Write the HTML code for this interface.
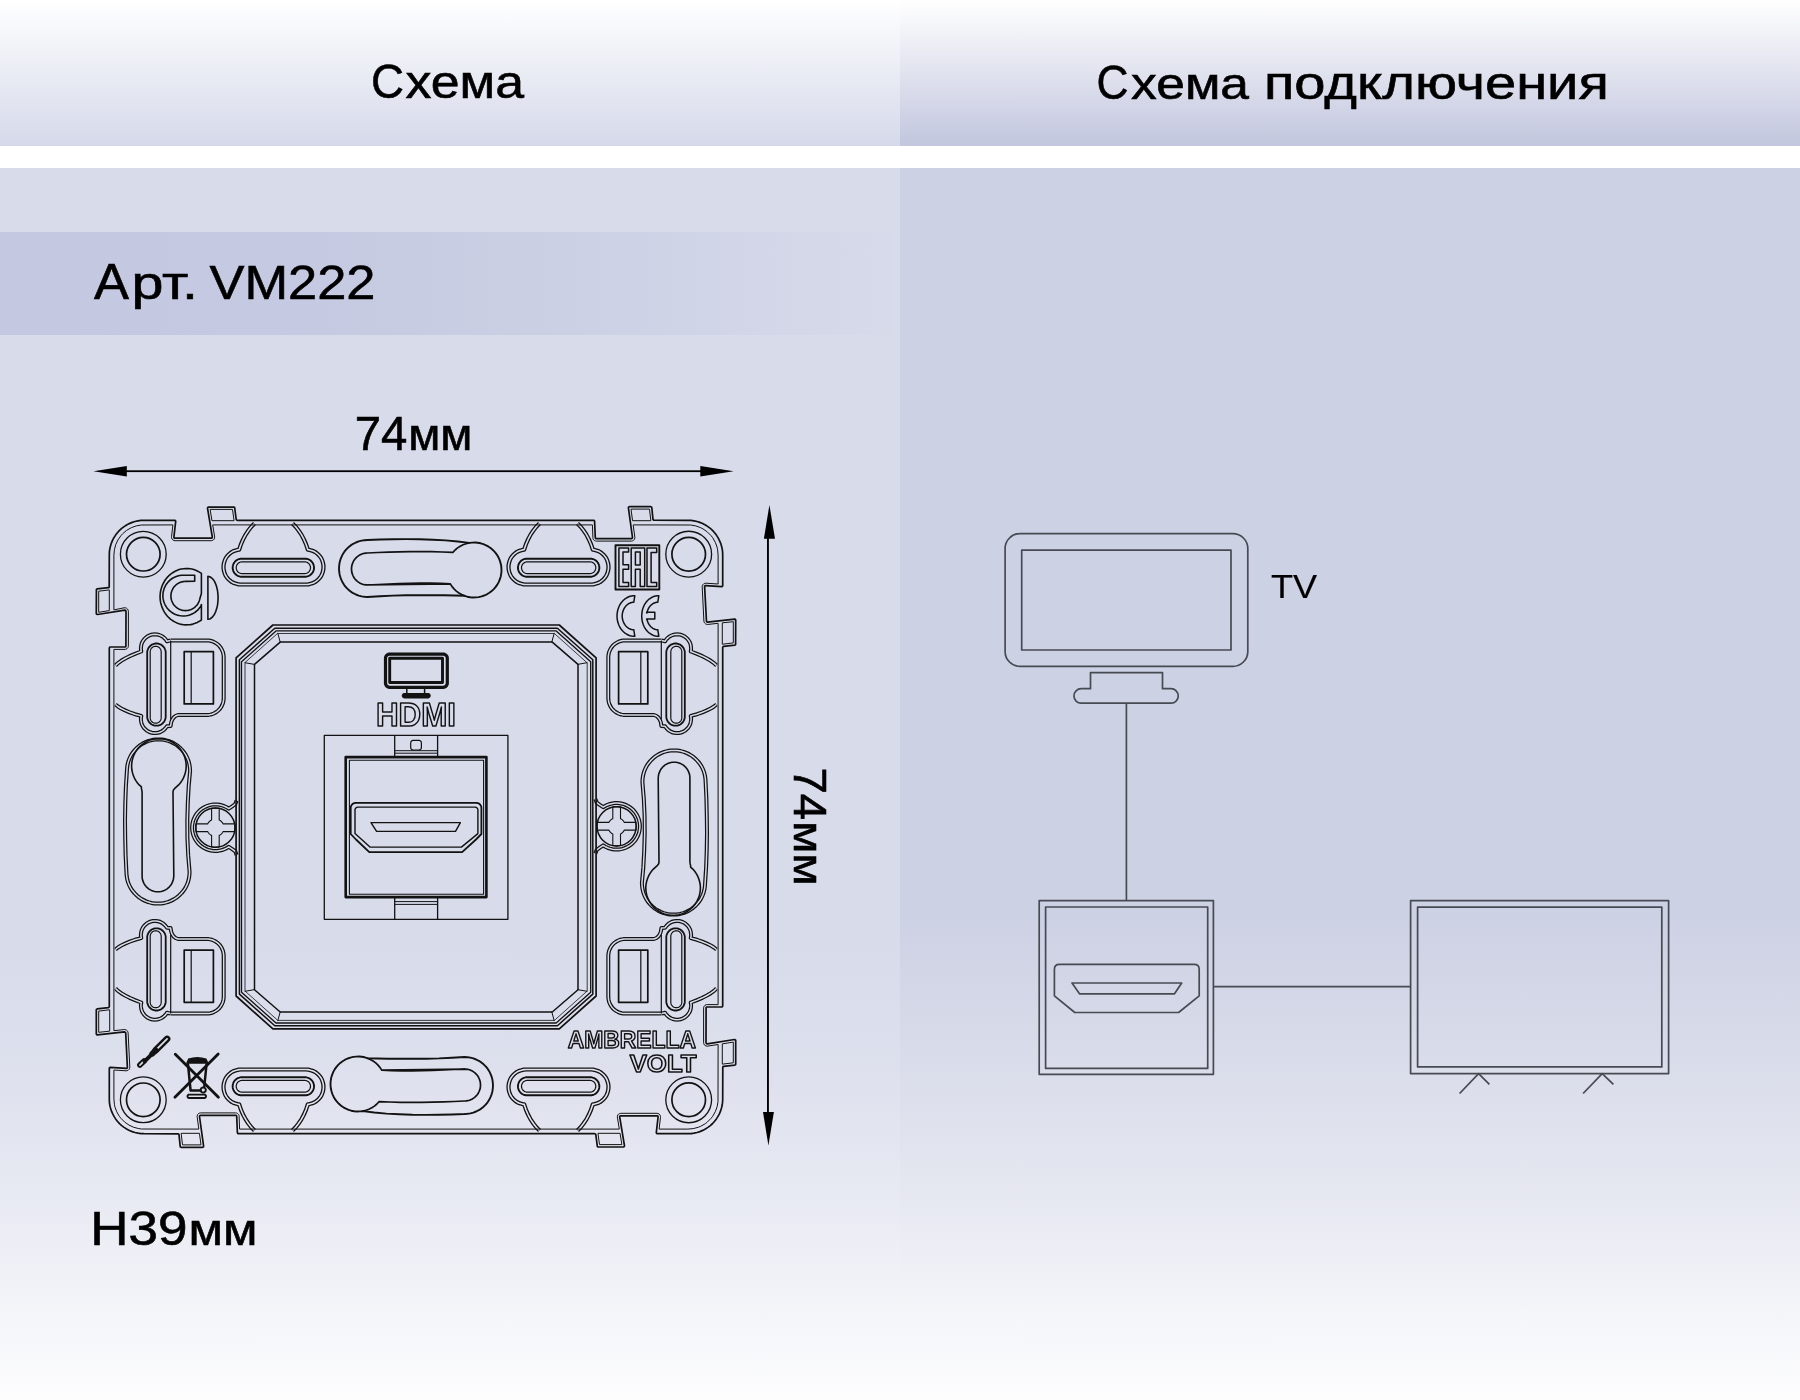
<!DOCTYPE html>
<html><head><meta charset="utf-8">
<style>
html,body{margin:0;padding:0;background:#fff;}
body{width:1800px;height:1400px;position:relative;overflow:hidden;font-family:"Liberation Sans",sans-serif;}
.bg{position:absolute;}
#hl{left:0;top:0;width:900px;height:146px;background:linear-gradient(to bottom,#ffffff 0%,#d5d9ea 100%);}
#hr{left:900px;top:0;width:900px;height:146px;background:linear-gradient(to bottom,#ffffff 0%,#c2c6de 100%);}
#pl{left:0;top:168px;width:900px;height:1232px;background:linear-gradient(to bottom,#d7dbea 0px,#d7dbea 748px,#dcdfec 880px,#e6e8f2 1012px,#f4f5f9 1144px,#fdfdfe 1232px);}
#pr{left:900px;top:168px;width:900px;height:1232px;background:linear-gradient(to bottom,#cdd1e4 0px,#cdd1e4 748px,#d8dbe9 880px,#e4e6f0 1012px,#f4f5f9 1144px,#fdfdfe 1232px);}
#band{left:0;top:232px;width:890px;height:103px;background:linear-gradient(to right,#c4c8e1 0px,#c5c9e1 300px,#cdd1e5 600px,#d6daea 890px);}
svg{position:absolute;left:0;top:0;will-change:transform;}
</style></head>
<body>
<div class="bg" id="hl"></div>
<div class="bg" id="hr"></div>
<div class="bg" id="pl"></div>
<div class="bg" id="pr"></div>
<div class="bg" id="band"></div>
<svg width="1800" height="1400" viewBox="0 0 1800 1400">
<g font-family="Liberation Sans" fill="#000" stroke="#000">
<text x="371.00" y="97.90" font-size="48.83" stroke-width="0.6" textLength="33.00" lengthAdjust="spacingAndGlyphs">С</text>
<text x="405.40" y="97.90" font-size="46.29" stroke-width="0.6" textLength="118.60" lengthAdjust="spacingAndGlyphs">хема</text>
<text x="1096.50" y="98.80" font-size="48.83" stroke-width="0.6" textLength="32.00" lengthAdjust="spacingAndGlyphs">С</text>
<text x="1131.00" y="98.80" font-size="45.16" stroke-width="0.6" textLength="118.00" lengthAdjust="spacingAndGlyphs">хема</text>
<text x="1264.00" y="98.90" font-size="46.29" stroke-width="0.6" textLength="344.80" lengthAdjust="spacingAndGlyphs">подключения</text>
<text x="94.00" y="299.00" font-size="50.78" stroke-width="0.6" textLength="35.00" lengthAdjust="spacingAndGlyphs">А</text>
<text x="131.40" y="299.00" font-size="45.50" stroke-width="0.6" textLength="66.60" lengthAdjust="spacingAndGlyphs">рт.</text>
<text x="209.50" y="299.40" font-size="48.60" stroke-width="0.6" textLength="166.00" lengthAdjust="spacingAndGlyphs">VM222</text>
<text x="354.80" y="449.50" font-size="48.79" stroke-width="0.6" textLength="52.60" lengthAdjust="spacingAndGlyphs">74</text>
<text x="408.20" y="449.50" font-size="43.51" stroke-width="0.6" textLength="64.20" lengthAdjust="spacingAndGlyphs">мм</text>
<text transform="translate(793.50,767.50) rotate(90)" font-size="46.40" stroke-width="0.6" textLength="52.60" lengthAdjust="spacingAndGlyphs">74</text>
<text transform="translate(793.50,821.00) rotate(90)" font-size="40.21" stroke-width="0.6" textLength="64.60" lengthAdjust="spacingAndGlyphs">мм</text>
<text x="90.30" y="1245.20" font-size="47.69" stroke-width="0.6" textLength="97.20" lengthAdjust="spacingAndGlyphs">H39</text>
<text x="188.60" y="1245.20" font-size="45.27" stroke-width="0.6" textLength="69.00" lengthAdjust="spacingAndGlyphs">мм</text>
<text x="1271.00" y="598.40" font-size="33.93" stroke-width="0.2" textLength="46.10" lengthAdjust="spacingAndGlyphs">TV</text>
</g>
<!-- dimension arrows -->
<g fill="#000" stroke="none">
<rect x="110" y="470.3" width="608" height="1.8"/>
<path d="M93.5,471.2 L126.8,465.9 L126.8,476.5 Z"/>
<path d="M733.6,471.2 L700.3,465.9 L700.3,476.5 Z"/>
<rect x="767" y="520" width="1.9" height="610"/>
<path d="M769.4,505 L763.9,538.8 L775,538.8 Z"/>
<path d="M768.4,1145.4 L763,1112.1 L773.9,1112.1 Z"/>
</g>
<mask id="dbl" maskUnits="userSpaceOnUse" x="0" y="0" width="1800" height="1400"><g fill="none" stroke-linejoin="round" stroke-linecap="butt">
<path d="M254.5,523.5 251.3,526.7 248.4,530.5 245.7,534.6 243.2,539.2 241,544.2 239.2,549.6 237.4,549.9 235.6,550.4 233.9,551 232.2,551.8 230.7,552.8 229.3,554 228,555.3 226.8,556.7 225.8,558.2 225,559.9 224.4,561.6 223.9,563.4 223.6,565.2 223.5,567 223.6,568.8 223.9,570.6 224.4,572.4 225,574.1 225.8,575.8 226.8,577.3 228,578.7 229.3,580 230.7,581.2 232.2,582.2 233.9,583 235.6,583.6 237.4,584.1 239.2,584.4 241,584.5 306,584.5 307.8,584.4 309.6,584.1 311.4,583.6 313.1,583 314.8,582.2 316.3,581.2 317.7,580 319,578.7 320.2,577.3 321.2,575.8 322,574.1 322.6,572.4 323.1,570.6 323.4,568.8 323.5,567 323.4,565.2 323.1,563.4 322.6,561.6 322,559.9 321.2,558.2 320.2,556.7 319,555.3 317.7,554 316.3,552.8 314.8,551.8 313.1,551 311.4,550.4 309.6,549.9 307.8,549.6 306,544.2 303.8,539.2 301.4,534.6 298.6,530.5 295.7,526.7 292.5,523.5" stroke="#fff" stroke-width="4.2"/>
<path d="M577.5,523.5 580.7,526.7 583.6,530.5 586.4,534.6 588.8,539.2 591,544.2 592.8,549.6 594.6,549.9 596.4,550.4 598.1,551 599.8,551.8 601.3,552.8 602.7,554 604,555.3 605.2,556.7 606.2,558.2 607,559.9 607.6,561.6 608.1,563.4 608.4,565.2 608.5,567 608.4,568.8 608.1,570.6 607.6,572.4 607,574.1 606.2,575.8 605.2,577.3 604,578.7 602.7,580 601.3,581.2 599.8,582.2 598.1,583 596.4,583.6 594.6,584.1 592.8,584.4 591,584.5 526,584.5 524.2,584.4 522.4,584.1 520.6,583.6 518.9,583 517.2,582.2 515.7,581.2 514.3,580 513,578.7 511.8,577.3 510.8,575.8 510,574.1 509.4,572.4 508.9,570.6 508.6,568.8 508.5,567 508.6,565.2 508.9,563.4 509.4,561.6 510,559.9 510.8,558.2 511.8,556.7 513,555.3 514.3,554 515.7,552.8 517.2,551.8 518.9,551 520.6,550.4 522.4,549.9 524.2,549.6 526,544.2 528.2,539.2 530.6,534.6 533.4,530.5 536.3,526.7 539.5,523.5" stroke="#fff" stroke-width="4.2"/>
<path d="M254.5,1130.5 251.3,1127.3 248.4,1123.5 245.7,1119.4 243.2,1114.8 241,1109.8 239.2,1104.4 237.4,1104.1 235.6,1103.6 233.9,1103 232.2,1102.2 230.7,1101.2 229.3,1100 228,1098.7 226.8,1097.3 225.8,1095.8 225,1094.1 224.4,1092.4 223.9,1090.6 223.6,1088.8 223.5,1087 223.6,1085.2 223.9,1083.4 224.4,1081.6 225,1079.9 225.8,1078.2 226.8,1076.7 228,1075.3 229.3,1074 230.7,1072.8 232.2,1071.8 233.9,1071 235.6,1070.4 237.4,1069.9 239.2,1069.6 241,1069.5 306,1069.5 307.8,1069.6 309.6,1069.9 311.4,1070.4 313.1,1071 314.8,1071.8 316.3,1072.8 317.7,1074 319,1075.3 320.2,1076.7 321.2,1078.2 322,1079.9 322.6,1081.6 323.1,1083.4 323.4,1085.2 323.5,1087 323.4,1088.8 323.1,1090.6 322.6,1092.4 322,1094.1 321.2,1095.8 320.2,1097.3 319,1098.7 317.7,1100 316.3,1101.2 314.8,1102.2 313.1,1103 311.4,1103.6 309.6,1104.1 307.8,1104.4 306,1109.8 303.8,1114.8 301.4,1119.4 298.6,1123.5 295.7,1127.3 292.5,1130.5" stroke="#fff" stroke-width="4.2"/>
<path d="M577.5,1130.5 580.7,1127.3 583.6,1123.5 586.4,1119.4 588.8,1114.8 591,1109.8 592.8,1104.4 594.6,1104.1 596.4,1103.6 598.1,1103 599.8,1102.2 601.3,1101.2 602.7,1100 604,1098.7 605.2,1097.3 606.2,1095.8 607,1094.1 607.6,1092.4 608.1,1090.6 608.4,1088.8 608.5,1087 608.4,1085.2 608.1,1083.4 607.6,1081.6 607,1079.9 606.2,1078.2 605.2,1076.7 604,1075.3 602.7,1074 601.3,1072.8 599.8,1071.8 598.1,1071 596.4,1070.4 594.6,1069.9 592.8,1069.6 591,1069.5 526,1069.5 524.2,1069.6 522.4,1069.9 520.6,1070.4 518.9,1071 517.2,1071.8 515.7,1072.8 514.3,1074 513,1075.3 511.8,1076.7 510.8,1078.2 510,1079.9 509.4,1081.6 508.9,1083.4 508.6,1085.2 508.5,1087 508.6,1088.8 508.9,1090.6 509.4,1092.4 510,1094.1 510.8,1095.8 511.8,1097.3 513,1098.7 514.3,1100 515.7,1101.2 517.2,1102.2 518.9,1103 520.6,1103.6 522.4,1104.1 524.2,1104.4 526,1109.8 528.2,1114.8 530.6,1119.4 533.4,1123.5 536.3,1127.3 539.5,1130.5" stroke="#fff" stroke-width="4.2"/>
<path d="M115.5,665.5 118,663.1 121.2,660.8 125.1,658.5 129.6,656.2 135,653.9 141.1,651.5 141.3,651.4 141,650 140.9,648.5 141,647.1 141.2,645.6 141.5,644.2 142,642.8 142.7,641.5 143.5,640.2 144.4,639.1 145.4,638 146.6,637.1 147.8,636.2 149.1,635.6 150.5,635 151.9,634.6 153.3,634.4 154.8,634.3 156.3,634.4 157.7,634.6 159.2,635 160.5,635.5 161.9,636.2 163.1,637 164.2,637.9 165.3,638.9 166.2,640.1 167,641.3 170.7,640.4" stroke="#fff" stroke-width="4.0"/>
<path d="M170.7,640.4 206.8,640.4 208.6,640.5 210.3,640.8 212,641.2 213.7,641.9 215.2,642.7 216.7,643.6 218.1,644.7 219.4,646 220.5,647.4 221.4,648.8 222.2,650.4 222.9,652.1 223.3,653.8 223.6,655.5 223.7,657.3 223.7,698.1 223.6,699.9 223.3,701.6 222.9,703.3 222.2,705 221.4,706.6 220.5,708 219.4,709.4 218.1,710.7 216.7,711.8 215.2,712.7 213.7,713.5 212,714.2 210.3,714.6 208.6,714.9 206.8,715 178,715 175.5,716 173.6,717.6 172.1,719.8 171.1,722.6 170.6,726 166.9,726.3 166.1,727.5 165.1,728.6 164.1,729.7 162.9,730.6 161.7,731.3 160.4,732 159,732.5 157.6,732.8 156.1,733 154.7,733.1 153.2,733 151.8,732.7 150.3,732.3 149,731.8 147.7,731.1 146.5,730.3 145.4,729.3 144.3,728.3 143.4,727.1 142.7,725.9 142,724.6 141.5,723.2 141.2,721.8 141,720.3 140.9,718.9 141,717.4 141.3,716 141.1,715.9 135,714.2 129.6,712.3 125.1,710.4 121.2,708.5 118,706.5 115.5,704.5" stroke="#fff" stroke-width="4.0"/>
<path d="M115.5,988.5 118,990.9 121.2,993.2 125.1,995.5 129.6,997.8 135,1000.1 141.1,1002.5 141.3,1002.6 141,1004 140.9,1005.5 141,1006.9 141.2,1008.4 141.5,1009.8 142,1011.2 142.7,1012.5 143.5,1013.8 144.4,1014.9 145.4,1016 146.6,1016.9 147.8,1017.8 149.1,1018.4 150.5,1019 151.9,1019.4 153.3,1019.6 154.8,1019.7 156.3,1019.6 157.7,1019.4 159.2,1019 160.5,1018.5 161.9,1017.8 163.1,1017 164.2,1016.1 165.3,1015.1 166.2,1013.9 167,1012.7 170.7,1013.6" stroke="#fff" stroke-width="4.0"/>
<path d="M170.7,1013.6 206.8,1013.6 208.6,1013.5 210.3,1013.2 212,1012.8 213.7,1012.1 215.2,1011.3 216.7,1010.4 218.1,1009.3 219.4,1008 220.5,1006.6 221.4,1005.2 222.2,1003.6 222.9,1001.9 223.3,1000.2 223.6,998.5 223.7,996.7 223.7,955.9 223.6,954.1 223.3,952.4 222.9,950.7 222.2,949 221.4,947.4 220.5,946 219.4,944.6 218.1,943.3 216.7,942.2 215.2,941.3 213.7,940.5 212,939.8 210.3,939.4 208.6,939.1 206.8,939 178,939 175.5,938 173.6,936.4 172.1,934.2 171.1,931.4 170.6,928 166.9,927.7 166.1,926.5 165.1,925.4 164.1,924.3 162.9,923.4 161.7,922.7 160.4,922 159,921.5 157.6,921.2 156.1,921 154.7,920.9 153.2,921 151.8,921.3 150.3,921.7 149,922.2 147.7,922.9 146.5,923.7 145.4,924.7 144.3,925.7 143.4,926.9 142.7,928.1 142,929.4 141.5,930.8 141.2,932.2 141,933.7 140.9,935.1 141,936.6 141.3,938 141.1,938.1 135,939.8 129.6,941.7 125.1,943.6 121.2,945.5 118,947.5 115.5,949.5" stroke="#fff" stroke-width="4.0"/>
<path d="M716.5,988.5 714,990.9 710.8,993.2 706.9,995.5 702.4,997.8 697,1000.1 690.9,1002.5 690.7,1002.6 691,1004 691.1,1005.5 691,1006.9 690.8,1008.4 690.5,1009.8 690,1011.2 689.3,1012.5 688.5,1013.8 687.6,1014.9 686.6,1016 685.4,1016.9 684.2,1017.8 682.9,1018.4 681.5,1019 680.1,1019.4 678.7,1019.6 677.2,1019.7 675.7,1019.6 674.3,1019.4 672.8,1019 671.5,1018.5 670.1,1017.8 668.9,1017 667.8,1016.1 666.7,1015.1 665.8,1013.9 665,1012.7 661.3,1013.6" stroke="#fff" stroke-width="4.0"/>
<path d="M661.3,1013.6 625.2,1013.6 623.4,1013.5 621.7,1013.2 620,1012.8 618.3,1012.1 616.8,1011.3 615.3,1010.4 613.9,1009.3 612.6,1008 611.5,1006.6 610.6,1005.2 609.8,1003.6 609.1,1001.9 608.7,1000.2 608.4,998.5 608.3,996.7 608.3,955.9 608.4,954.1 608.7,952.4 609.1,950.7 609.8,949 610.6,947.4 611.5,946 612.6,944.6 613.9,943.3 615.3,942.2 616.8,941.3 618.3,940.5 620,939.8 621.7,939.4 623.4,939.1 625.2,939 654,939 656.5,938 658.4,936.4 659.9,934.2 660.9,931.4 661.4,928 665.1,927.7 665.9,926.5 666.9,925.4 667.9,924.3 669.1,923.4 670.3,922.7 671.6,922 673,921.5 674.4,921.2 675.9,921 677.3,920.9 678.8,921 680.2,921.3 681.7,921.7 683,922.2 684.3,922.9 685.5,923.7 686.6,924.7 687.7,925.7 688.6,926.9 689.3,928.1 690,929.4 690.5,930.8 690.8,932.2 691,933.7 691.1,935.1 691,936.6 690.7,938 690.9,938.1 697,939.8 702.4,941.7 706.9,943.6 710.8,945.5 714,947.5 716.5,949.5" stroke="#fff" stroke-width="4.0"/>
<path d="M716.5,665.5 714,663.1 710.8,660.8 706.9,658.5 702.4,656.2 697,653.9 690.9,651.5 690.7,651.4 691,650 691.1,648.5 691,647.1 690.8,645.6 690.5,644.2 690,642.8 689.3,641.5 688.5,640.2 687.6,639.1 686.6,638 685.4,637.1 684.2,636.2 682.9,635.6 681.5,635 680.1,634.6 678.7,634.4 677.2,634.3 675.7,634.4 674.3,634.6 672.8,635 671.5,635.5 670.1,636.2 668.9,637 667.8,637.9 666.7,638.9 665.8,640.1 665,641.3 661.3,640.4" stroke="#fff" stroke-width="4.0"/>
<path d="M661.3,640.4 625.2,640.4 623.4,640.5 621.7,640.8 620,641.2 618.3,641.9 616.8,642.7 615.3,643.6 613.9,644.7 612.6,646 611.5,647.4 610.6,648.8 609.8,650.4 609.1,652.1 608.7,653.8 608.4,655.5 608.3,657.3 608.3,698.1 608.4,699.9 608.7,701.6 609.1,703.3 609.8,705 610.6,706.6 611.5,708 612.6,709.4 613.9,710.7 615.3,711.8 616.8,712.7 618.3,713.5 620,714.2 621.7,714.6 623.4,714.9 625.2,715 654,715 656.5,716 658.4,717.6 659.9,719.8 660.9,722.6 661.4,726 665.1,726.3 665.9,727.5 666.9,728.6 667.9,729.7 669.1,730.6 670.3,731.3 671.6,732 673,732.5 674.4,732.8 675.9,733 677.3,733.1 678.8,733 680.2,732.7 681.7,732.3 683,731.8 684.3,731.1 685.5,730.3 686.6,729.3 687.7,728.3 688.6,727.1 689.3,725.9 690,724.6 690.5,723.2 690.8,721.8 691,720.3 691.1,718.9 691,717.4 690.7,716 690.9,715.9 697,714.2 702.4,712.3 706.9,710.4 710.8,708.5 714,706.5 716.5,704.5" stroke="#fff" stroke-width="4.0"/>
<path d="M126.9,771 127.1,767.7 127.6,764.4 128.4,761.2 129.6,758.1 131.1,755.2 132.9,752.4 135,749.9 137.4,747.5 139.9,745.4 142.7,743.6 145.6,742.1 148.7,740.9 151.9,740.1 155.2,739.6 158.5,739.4 161.8,739.6 165.1,740.1 168.3,740.9 171.4,742.1 174.3,743.6 177.1,745.4 179.6,747.5 182,749.9 184.1,752.4 185.9,755.2 187.4,758.1 188.6,761.2 189.4,764.4 189.9,767.7 190.1,771 188.7,786.3 187.8,803 187.3,820.4 187.4,838 188.2,855.4 189.6,872 189.4,875.3 188.9,878.6 188.1,881.8 186.9,884.9 185.4,887.8 183.6,890.6 181.5,893.1 179.1,895.5 176.6,897.6 173.8,899.4 170.9,900.9 167.8,902.1 164.6,902.9 161.3,903.4 158,903.6 154.7,903.4 151.4,902.9 148.2,902.1 145.1,900.9 142.2,899.4 139.4,897.6 136.9,895.5 134.5,893.1 132.4,890.6 130.6,887.8 129.1,884.9 127.9,881.8 127.1,878.6 126.6,875.3 126.4,872 125.6,855.4 125.2,838 125,820.4 125.3,803 125.9,786.3Z" stroke="#fff" stroke-width="4.0"/>
<path d="M705.1,883 704.9,886.3 704.4,889.6 703.6,892.8 702.4,895.9 700.9,898.8 699.1,901.6 697,904.1 694.6,906.5 692.1,908.6 689.3,910.4 686.4,911.9 683.3,913.1 680.1,913.9 676.8,914.4 673.5,914.6 670.2,914.4 666.9,913.9 663.7,913.1 660.6,911.9 657.7,910.4 654.9,908.6 652.4,906.5 650,904.1 647.9,901.6 646.1,898.8 644.6,895.9 643.4,892.8 642.6,889.6 642.1,886.3 641.9,883 643.3,867.7 644.2,851 644.7,833.6 644.6,816 643.8,798.6 642.4,782 642.6,778.7 643.1,775.4 643.9,772.2 645.1,769.1 646.6,766.2 648.4,763.4 650.5,760.9 652.9,758.5 655.4,756.4 658.2,754.6 661.1,753.1 664.2,751.9 667.4,751.1 670.7,750.6 674,750.4 677.3,750.6 680.6,751.1 683.8,751.9 686.9,753.1 689.8,754.6 692.6,756.4 695.1,758.5 697.5,760.9 699.6,763.4 701.4,766.2 702.9,769.1 704.1,772.2 704.9,775.4 705.4,778.7 705.6,782 706.4,798.6 706.8,816 707,833.6 706.7,851 706.1,867.7Z" stroke="#fff" stroke-width="4.0"/>
<path d="M236.6,800.5 235.3,804 232.2,806.3 228.8,808.6 226.7,807.3 224.4,806.2 222.1,805.4 219.7,804.8 217.2,804.5 214.8,804.4 212.3,804.6 209.8,805.1 207.5,805.8 205.2,806.8 203,808 201,809.4 199.1,811 197.5,812.8 196,814.8 194.7,817 193.7,819.2 192.9,821.6 192.4,824 192.1,826.5 192.1,828.9 192.4,831.4 192.9,833.8 193.7,836.2 194.7,838.4 196,840.6 197.5,842.6 199.1,844.4 201,846 203,847.4 205.2,848.6 207.5,849.6 209.8,850.3 212.3,850.8 214.8,851 217.2,850.9 219.7,850.6 222.1,850 224.4,849.2 226.7,848.1 228.8,846.8 232.2,849.1 235.3,851.4 236.6,855" stroke="#fff" stroke-width="4.0"/>
<path d="M595.4,853.5 596.7,850 599.8,847.7 603.2,845.4 605.3,846.7 607.6,847.8 609.9,848.6 612.3,849.2 614.8,849.5 617.2,849.6 619.7,849.4 622.2,848.9 624.5,848.2 626.8,847.2 629,846 631,844.6 632.9,843 634.5,841.2 636,839.2 637.3,837 638.3,834.8 639.1,832.4 639.6,830 639.9,827.5 639.9,825.1 639.6,822.6 639.1,820.2 638.3,817.8 637.3,815.6 636,813.4 634.5,811.4 632.9,809.6 631,808 629,806.6 626.8,805.4 624.5,804.4 622.2,803.7 619.7,803.2 617.2,803 614.8,803.1 612.3,803.4 609.9,804 607.6,804.8 605.3,805.9 603.2,807.2 599.8,804.9 596.7,802.6 595.4,799" stroke="#fff" stroke-width="4.0"/>
<path d="M254.5,523.5 251.3,526.7 248.4,530.5 245.7,534.6 243.2,539.2 241,544.2 239.2,549.6 237.4,549.9 235.6,550.4 233.9,551 232.2,551.8 230.7,552.8 229.3,554 228,555.3 226.8,556.7 225.8,558.2 225,559.9 224.4,561.6 223.9,563.4 223.6,565.2 223.5,567 223.6,568.8 223.9,570.6 224.4,572.4 225,574.1 225.8,575.8 226.8,577.3 228,578.7 229.3,580 230.7,581.2 232.2,582.2 233.9,583 235.6,583.6 237.4,584.1 239.2,584.4 241,584.5 306,584.5 307.8,584.4 309.6,584.1 311.4,583.6 313.1,583 314.8,582.2 316.3,581.2 317.7,580 319,578.7 320.2,577.3 321.2,575.8 322,574.1 322.6,572.4 323.1,570.6 323.4,568.8 323.5,567 323.4,565.2 323.1,563.4 322.6,561.6 322,559.9 321.2,558.2 320.2,556.7 319,555.3 317.7,554 316.3,552.8 314.8,551.8 313.1,551 311.4,550.4 309.6,549.9 307.8,549.6 306,544.2 303.8,539.2 301.4,534.6 298.6,530.5 295.7,526.7 292.5,523.5" stroke="#000" stroke-width="1.6"/>
<path d="M577.5,523.5 580.7,526.7 583.6,530.5 586.4,534.6 588.8,539.2 591,544.2 592.8,549.6 594.6,549.9 596.4,550.4 598.1,551 599.8,551.8 601.3,552.8 602.7,554 604,555.3 605.2,556.7 606.2,558.2 607,559.9 607.6,561.6 608.1,563.4 608.4,565.2 608.5,567 608.4,568.8 608.1,570.6 607.6,572.4 607,574.1 606.2,575.8 605.2,577.3 604,578.7 602.7,580 601.3,581.2 599.8,582.2 598.1,583 596.4,583.6 594.6,584.1 592.8,584.4 591,584.5 526,584.5 524.2,584.4 522.4,584.1 520.6,583.6 518.9,583 517.2,582.2 515.7,581.2 514.3,580 513,578.7 511.8,577.3 510.8,575.8 510,574.1 509.4,572.4 508.9,570.6 508.6,568.8 508.5,567 508.6,565.2 508.9,563.4 509.4,561.6 510,559.9 510.8,558.2 511.8,556.7 513,555.3 514.3,554 515.7,552.8 517.2,551.8 518.9,551 520.6,550.4 522.4,549.9 524.2,549.6 526,544.2 528.2,539.2 530.6,534.6 533.4,530.5 536.3,526.7 539.5,523.5" stroke="#000" stroke-width="1.6"/>
<path d="M254.5,1130.5 251.3,1127.3 248.4,1123.5 245.7,1119.4 243.2,1114.8 241,1109.8 239.2,1104.4 237.4,1104.1 235.6,1103.6 233.9,1103 232.2,1102.2 230.7,1101.2 229.3,1100 228,1098.7 226.8,1097.3 225.8,1095.8 225,1094.1 224.4,1092.4 223.9,1090.6 223.6,1088.8 223.5,1087 223.6,1085.2 223.9,1083.4 224.4,1081.6 225,1079.9 225.8,1078.2 226.8,1076.7 228,1075.3 229.3,1074 230.7,1072.8 232.2,1071.8 233.9,1071 235.6,1070.4 237.4,1069.9 239.2,1069.6 241,1069.5 306,1069.5 307.8,1069.6 309.6,1069.9 311.4,1070.4 313.1,1071 314.8,1071.8 316.3,1072.8 317.7,1074 319,1075.3 320.2,1076.7 321.2,1078.2 322,1079.9 322.6,1081.6 323.1,1083.4 323.4,1085.2 323.5,1087 323.4,1088.8 323.1,1090.6 322.6,1092.4 322,1094.1 321.2,1095.8 320.2,1097.3 319,1098.7 317.7,1100 316.3,1101.2 314.8,1102.2 313.1,1103 311.4,1103.6 309.6,1104.1 307.8,1104.4 306,1109.8 303.8,1114.8 301.4,1119.4 298.6,1123.5 295.7,1127.3 292.5,1130.5" stroke="#000" stroke-width="1.6"/>
<path d="M577.5,1130.5 580.7,1127.3 583.6,1123.5 586.4,1119.4 588.8,1114.8 591,1109.8 592.8,1104.4 594.6,1104.1 596.4,1103.6 598.1,1103 599.8,1102.2 601.3,1101.2 602.7,1100 604,1098.7 605.2,1097.3 606.2,1095.8 607,1094.1 607.6,1092.4 608.1,1090.6 608.4,1088.8 608.5,1087 608.4,1085.2 608.1,1083.4 607.6,1081.6 607,1079.9 606.2,1078.2 605.2,1076.7 604,1075.3 602.7,1074 601.3,1072.8 599.8,1071.8 598.1,1071 596.4,1070.4 594.6,1069.9 592.8,1069.6 591,1069.5 526,1069.5 524.2,1069.6 522.4,1069.9 520.6,1070.4 518.9,1071 517.2,1071.8 515.7,1072.8 514.3,1074 513,1075.3 511.8,1076.7 510.8,1078.2 510,1079.9 509.4,1081.6 508.9,1083.4 508.6,1085.2 508.5,1087 508.6,1088.8 508.9,1090.6 509.4,1092.4 510,1094.1 510.8,1095.8 511.8,1097.3 513,1098.7 514.3,1100 515.7,1101.2 517.2,1102.2 518.9,1103 520.6,1103.6 522.4,1104.1 524.2,1104.4 526,1109.8 528.2,1114.8 530.6,1119.4 533.4,1123.5 536.3,1127.3 539.5,1130.5" stroke="#000" stroke-width="1.6"/>
<path d="M115.5,665.5 118,663.1 121.2,660.8 125.1,658.5 129.6,656.2 135,653.9 141.1,651.5 141.3,651.4 141,650 140.9,648.5 141,647.1 141.2,645.6 141.5,644.2 142,642.8 142.7,641.5 143.5,640.2 144.4,639.1 145.4,638 146.6,637.1 147.8,636.2 149.1,635.6 150.5,635 151.9,634.6 153.3,634.4 154.8,634.3 156.3,634.4 157.7,634.6 159.2,635 160.5,635.5 161.9,636.2 163.1,637 164.2,637.9 165.3,638.9 166.2,640.1 167,641.3 170.7,640.4" stroke="#000" stroke-width="1.5"/>
<path d="M170.7,640.4 206.8,640.4 208.6,640.5 210.3,640.8 212,641.2 213.7,641.9 215.2,642.7 216.7,643.6 218.1,644.7 219.4,646 220.5,647.4 221.4,648.8 222.2,650.4 222.9,652.1 223.3,653.8 223.6,655.5 223.7,657.3 223.7,698.1 223.6,699.9 223.3,701.6 222.9,703.3 222.2,705 221.4,706.6 220.5,708 219.4,709.4 218.1,710.7 216.7,711.8 215.2,712.7 213.7,713.5 212,714.2 210.3,714.6 208.6,714.9 206.8,715 178,715 175.5,716 173.6,717.6 172.1,719.8 171.1,722.6 170.6,726 166.9,726.3 166.1,727.5 165.1,728.6 164.1,729.7 162.9,730.6 161.7,731.3 160.4,732 159,732.5 157.6,732.8 156.1,733 154.7,733.1 153.2,733 151.8,732.7 150.3,732.3 149,731.8 147.7,731.1 146.5,730.3 145.4,729.3 144.3,728.3 143.4,727.1 142.7,725.9 142,724.6 141.5,723.2 141.2,721.8 141,720.3 140.9,718.9 141,717.4 141.3,716 141.1,715.9 135,714.2 129.6,712.3 125.1,710.4 121.2,708.5 118,706.5 115.5,704.5" stroke="#000" stroke-width="1.5"/>
<path d="M115.5,988.5 118,990.9 121.2,993.2 125.1,995.5 129.6,997.8 135,1000.1 141.1,1002.5 141.3,1002.6 141,1004 140.9,1005.5 141,1006.9 141.2,1008.4 141.5,1009.8 142,1011.2 142.7,1012.5 143.5,1013.8 144.4,1014.9 145.4,1016 146.6,1016.9 147.8,1017.8 149.1,1018.4 150.5,1019 151.9,1019.4 153.3,1019.6 154.8,1019.7 156.3,1019.6 157.7,1019.4 159.2,1019 160.5,1018.5 161.9,1017.8 163.1,1017 164.2,1016.1 165.3,1015.1 166.2,1013.9 167,1012.7 170.7,1013.6" stroke="#000" stroke-width="1.5"/>
<path d="M170.7,1013.6 206.8,1013.6 208.6,1013.5 210.3,1013.2 212,1012.8 213.7,1012.1 215.2,1011.3 216.7,1010.4 218.1,1009.3 219.4,1008 220.5,1006.6 221.4,1005.2 222.2,1003.6 222.9,1001.9 223.3,1000.2 223.6,998.5 223.7,996.7 223.7,955.9 223.6,954.1 223.3,952.4 222.9,950.7 222.2,949 221.4,947.4 220.5,946 219.4,944.6 218.1,943.3 216.7,942.2 215.2,941.3 213.7,940.5 212,939.8 210.3,939.4 208.6,939.1 206.8,939 178,939 175.5,938 173.6,936.4 172.1,934.2 171.1,931.4 170.6,928 166.9,927.7 166.1,926.5 165.1,925.4 164.1,924.3 162.9,923.4 161.7,922.7 160.4,922 159,921.5 157.6,921.2 156.1,921 154.7,920.9 153.2,921 151.8,921.3 150.3,921.7 149,922.2 147.7,922.9 146.5,923.7 145.4,924.7 144.3,925.7 143.4,926.9 142.7,928.1 142,929.4 141.5,930.8 141.2,932.2 141,933.7 140.9,935.1 141,936.6 141.3,938 141.1,938.1 135,939.8 129.6,941.7 125.1,943.6 121.2,945.5 118,947.5 115.5,949.5" stroke="#000" stroke-width="1.5"/>
<path d="M716.5,988.5 714,990.9 710.8,993.2 706.9,995.5 702.4,997.8 697,1000.1 690.9,1002.5 690.7,1002.6 691,1004 691.1,1005.5 691,1006.9 690.8,1008.4 690.5,1009.8 690,1011.2 689.3,1012.5 688.5,1013.8 687.6,1014.9 686.6,1016 685.4,1016.9 684.2,1017.8 682.9,1018.4 681.5,1019 680.1,1019.4 678.7,1019.6 677.2,1019.7 675.7,1019.6 674.3,1019.4 672.8,1019 671.5,1018.5 670.1,1017.8 668.9,1017 667.8,1016.1 666.7,1015.1 665.8,1013.9 665,1012.7 661.3,1013.6" stroke="#000" stroke-width="1.5"/>
<path d="M661.3,1013.6 625.2,1013.6 623.4,1013.5 621.7,1013.2 620,1012.8 618.3,1012.1 616.8,1011.3 615.3,1010.4 613.9,1009.3 612.6,1008 611.5,1006.6 610.6,1005.2 609.8,1003.6 609.1,1001.9 608.7,1000.2 608.4,998.5 608.3,996.7 608.3,955.9 608.4,954.1 608.7,952.4 609.1,950.7 609.8,949 610.6,947.4 611.5,946 612.6,944.6 613.9,943.3 615.3,942.2 616.8,941.3 618.3,940.5 620,939.8 621.7,939.4 623.4,939.1 625.2,939 654,939 656.5,938 658.4,936.4 659.9,934.2 660.9,931.4 661.4,928 665.1,927.7 665.9,926.5 666.9,925.4 667.9,924.3 669.1,923.4 670.3,922.7 671.6,922 673,921.5 674.4,921.2 675.9,921 677.3,920.9 678.8,921 680.2,921.3 681.7,921.7 683,922.2 684.3,922.9 685.5,923.7 686.6,924.7 687.7,925.7 688.6,926.9 689.3,928.1 690,929.4 690.5,930.8 690.8,932.2 691,933.7 691.1,935.1 691,936.6 690.7,938 690.9,938.1 697,939.8 702.4,941.7 706.9,943.6 710.8,945.5 714,947.5 716.5,949.5" stroke="#000" stroke-width="1.5"/>
<path d="M716.5,665.5 714,663.1 710.8,660.8 706.9,658.5 702.4,656.2 697,653.9 690.9,651.5 690.7,651.4 691,650 691.1,648.5 691,647.1 690.8,645.6 690.5,644.2 690,642.8 689.3,641.5 688.5,640.2 687.6,639.1 686.6,638 685.4,637.1 684.2,636.2 682.9,635.6 681.5,635 680.1,634.6 678.7,634.4 677.2,634.3 675.7,634.4 674.3,634.6 672.8,635 671.5,635.5 670.1,636.2 668.9,637 667.8,637.9 666.7,638.9 665.8,640.1 665,641.3 661.3,640.4" stroke="#000" stroke-width="1.5"/>
<path d="M661.3,640.4 625.2,640.4 623.4,640.5 621.7,640.8 620,641.2 618.3,641.9 616.8,642.7 615.3,643.6 613.9,644.7 612.6,646 611.5,647.4 610.6,648.8 609.8,650.4 609.1,652.1 608.7,653.8 608.4,655.5 608.3,657.3 608.3,698.1 608.4,699.9 608.7,701.6 609.1,703.3 609.8,705 610.6,706.6 611.5,708 612.6,709.4 613.9,710.7 615.3,711.8 616.8,712.7 618.3,713.5 620,714.2 621.7,714.6 623.4,714.9 625.2,715 654,715 656.5,716 658.4,717.6 659.9,719.8 660.9,722.6 661.4,726 665.1,726.3 665.9,727.5 666.9,728.6 667.9,729.7 669.1,730.6 670.3,731.3 671.6,732 673,732.5 674.4,732.8 675.9,733 677.3,733.1 678.8,733 680.2,732.7 681.7,732.3 683,731.8 684.3,731.1 685.5,730.3 686.6,729.3 687.7,728.3 688.6,727.1 689.3,725.9 690,724.6 690.5,723.2 690.8,721.8 691,720.3 691.1,718.9 691,717.4 690.7,716 690.9,715.9 697,714.2 702.4,712.3 706.9,710.4 710.8,708.5 714,706.5 716.5,704.5" stroke="#000" stroke-width="1.5"/>
<path d="M126.9,771 127.1,767.7 127.6,764.4 128.4,761.2 129.6,758.1 131.1,755.2 132.9,752.4 135,749.9 137.4,747.5 139.9,745.4 142.7,743.6 145.6,742.1 148.7,740.9 151.9,740.1 155.2,739.6 158.5,739.4 161.8,739.6 165.1,740.1 168.3,740.9 171.4,742.1 174.3,743.6 177.1,745.4 179.6,747.5 182,749.9 184.1,752.4 185.9,755.2 187.4,758.1 188.6,761.2 189.4,764.4 189.9,767.7 190.1,771 188.7,786.3 187.8,803 187.3,820.4 187.4,838 188.2,855.4 189.6,872 189.4,875.3 188.9,878.6 188.1,881.8 186.9,884.9 185.4,887.8 183.6,890.6 181.5,893.1 179.1,895.5 176.6,897.6 173.8,899.4 170.9,900.9 167.8,902.1 164.6,902.9 161.3,903.4 158,903.6 154.7,903.4 151.4,902.9 148.2,902.1 145.1,900.9 142.2,899.4 139.4,897.6 136.9,895.5 134.5,893.1 132.4,890.6 130.6,887.8 129.1,884.9 127.9,881.8 127.1,878.6 126.6,875.3 126.4,872 125.6,855.4 125.2,838 125,820.4 125.3,803 125.9,786.3Z" stroke="#000" stroke-width="1.5"/>
<path d="M705.1,883 704.9,886.3 704.4,889.6 703.6,892.8 702.4,895.9 700.9,898.8 699.1,901.6 697,904.1 694.6,906.5 692.1,908.6 689.3,910.4 686.4,911.9 683.3,913.1 680.1,913.9 676.8,914.4 673.5,914.6 670.2,914.4 666.9,913.9 663.7,913.1 660.6,911.9 657.7,910.4 654.9,908.6 652.4,906.5 650,904.1 647.9,901.6 646.1,898.8 644.6,895.9 643.4,892.8 642.6,889.6 642.1,886.3 641.9,883 643.3,867.7 644.2,851 644.7,833.6 644.6,816 643.8,798.6 642.4,782 642.6,778.7 643.1,775.4 643.9,772.2 645.1,769.1 646.6,766.2 648.4,763.4 650.5,760.9 652.9,758.5 655.4,756.4 658.2,754.6 661.1,753.1 664.2,751.9 667.4,751.1 670.7,750.6 674,750.4 677.3,750.6 680.6,751.1 683.8,751.9 686.9,753.1 689.8,754.6 692.6,756.4 695.1,758.5 697.5,760.9 699.6,763.4 701.4,766.2 702.9,769.1 704.1,772.2 704.9,775.4 705.4,778.7 705.6,782 706.4,798.6 706.8,816 707,833.6 706.7,851 706.1,867.7Z" stroke="#000" stroke-width="1.5"/>
<path d="M236.6,800.5 235.3,804 232.2,806.3 228.8,808.6 226.7,807.3 224.4,806.2 222.1,805.4 219.7,804.8 217.2,804.5 214.8,804.4 212.3,804.6 209.8,805.1 207.5,805.8 205.2,806.8 203,808 201,809.4 199.1,811 197.5,812.8 196,814.8 194.7,817 193.7,819.2 192.9,821.6 192.4,824 192.1,826.5 192.1,828.9 192.4,831.4 192.9,833.8 193.7,836.2 194.7,838.4 196,840.6 197.5,842.6 199.1,844.4 201,846 203,847.4 205.2,848.6 207.5,849.6 209.8,850.3 212.3,850.8 214.8,851 217.2,850.9 219.7,850.6 222.1,850 224.4,849.2 226.7,848.1 228.8,846.8 232.2,849.1 235.3,851.4 236.6,855" stroke="#000" stroke-width="1.5"/>
<path d="M595.4,853.5 596.7,850 599.8,847.7 603.2,845.4 605.3,846.7 607.6,847.8 609.9,848.6 612.3,849.2 614.8,849.5 617.2,849.6 619.7,849.4 622.2,848.9 624.5,848.2 626.8,847.2 629,846 631,844.6 632.9,843 634.5,841.2 636,839.2 637.3,837 638.3,834.8 639.1,832.4 639.6,830 639.9,827.5 639.9,825.1 639.6,822.6 639.1,820.2 638.3,817.8 637.3,815.6 636,813.4 634.5,811.4 632.9,809.6 631,808 629,806.6 626.8,805.4 624.5,804.4 622.2,803.7 619.7,803.2 617.2,803 614.8,803.1 612.3,803.4 609.9,804 607.6,804.8 605.3,805.9 603.2,807.2 599.8,804.9 596.7,802.6 595.4,799" stroke="#000" stroke-width="1.5"/>
</g><g fill="none" stroke-linecap="round">
<path d="M155.8,1050.2 L167.1,1038.9" stroke="#fff" stroke-width="6.6"/>
<path d="M139.9,1065.1 L144.1,1060.9" stroke="#fff" stroke-width="5.6"/>
<path d="M155.8,1050.2 L167.1,1038.9" stroke="#000" stroke-width="1.7"/>
<path d="M139.9,1065.1 L144.1,1060.9" stroke="#000" stroke-width="1.5"/>
</g></mask>
<g fill="none" stroke="#121212" stroke-linejoin="round" stroke-linecap="round">
<path stroke-width="0.8" d="M277.8,633.5 554.4,633.5 587.2,662.9 587.2,991 554.4,1020.4 277.8,1020.4 245,991 245,662.9Z"/>
<path stroke-width="1.0" d="M109.3,610.2 109.3,589.9 98.7,591.2 98.7,611.9Z M124.4,607.8 125.4,607.8 126.4,608.1 127.5,609 128.2,610.2 128.4,611.3 128.4,645.9 128.3,646.8 127.9,647.7 127,648.7 125.4,649.4 113.9,649.4 113.9,1030.7 124.7,1029.5 126.4,1030.1 127.2,1030.7 127.9,1031.9 128.1,1032.8 129.8,1067.1 129.7,1068.2 129.1,1069.4 128.4,1070.1 127.1,1070.7 126.1,1070.8 113.9,1070 113.9,1098.9 114.4,1104.2 114.9,1106.8 116.7,1111.7 119.3,1116.3 120.9,1118.3 124.7,1122.1 129,1125.1 133.7,1127.3 138.8,1128.6 141.4,1129 198.8,1129.1 197.1,1116.4 197.6,1114.5 198.3,1113.7 199.5,1113.1 200.6,1112.9 235.6,1112.9 236.6,1113 237.7,1113.6 238.6,1114.5 239,1115.4 239.1,1116.3 239.6,1129.1 619.3,1129.1 617.3,1116.8 617.8,1114.9 618.5,1114.2 619.8,1113.5 620.8,1113.3 657,1113.3 658,1113.5 659.2,1114.1 660.1,1115.2 660.4,1116.2 660.5,1117.2 659.1,1129.1 687.9,1129.1 693.2,1128.6 698.3,1127.3 700.7,1126.3 705.3,1123.7 707.3,1122.1 711.1,1118.3 712.7,1116.3 715.3,1111.7 717.1,1106.8 718,1101.6 718.1,1044.5 707.1,1046.2 705.2,1045.7 704.5,1045 703.8,1043.8 703.6,1042.7 703.6,1008.1 703.7,1007.2 704.3,1006 705,1005.3 706.2,1004.7 707.1,1004.6 718.1,1004.6 718.1,623.3 707.3,624.5 705.6,623.9 704.6,623 704.1,622.1 703.9,621.2 702.2,586.9 702.3,585.8 702.9,584.6 703.6,583.9 704.9,583.3 705.9,583.2 718.1,584 718.1,555.1 717.6,549.8 717.1,547.2 715.3,542.3 712.7,537.7 711.1,535.7 707.3,531.9 703,528.9 700.7,527.7 695.8,525.9 690.6,525 633.2,524.9 634.9,537.6 634.4,539.5 633.7,540.3 632.5,540.9 631.4,541.1 596.4,541.1 595.4,541 594.3,540.4 593.6,539.8 593,538.6 592.9,537.7 592.4,524.9 212.7,524.9 214.7,537.2 214.2,539.1 213.2,540.1 212.2,540.5 211.2,540.7 175,540.7 174,540.5 172.8,539.9 172.1,539.1 171.6,537.8 171.5,536.8 172.9,524.9 141.4,525 136.2,525.9 131.3,527.7 126.7,530.3 122.7,533.7 120.9,535.7 117.9,540 115.7,544.7 114.4,549.8 113.9,555.1 113.9,609.5Z M109.3,1009.8 98.7,1011.1 98.7,1032.3 109.3,1031.2Z M181.2,1133.7 182.5,1144.9 201,1144.9 199.5,1133.7Z M598,1133.7 599.5,1144.6 621.9,1144.6 620.1,1133.7Z M722.7,1064.1 733.3,1062.8 733.3,1042.1 722.7,1043.8Z M722.7,644.2 733.3,642.9 733.3,621.7 722.7,622.8Z M650.8,520.3 649.5,509.1 631,509.1 632.5,520.3Z M234,520.3 232.5,509.4 210.1,509.4 211.9,520.3Z M277.8,633.3 280.2,642.1 M245,662.7 254.5,664.4 M554.2,633.3 551.8,642.1 M587,662.7 577.5,664.4 M277.8,1020.7 280.2,1011.9 M245,991.3 254.5,989.6 M554.2,1020.7 551.8,1011.9 M587,991.3 577.5,989.6 M394.7,750.7 437.6,750.7 M394.7,753.2 437.6,753.2 M394.7,901.6 437.6,901.6 M394.7,904.4 437.6,904.4"/>
<path stroke-width="1.1" d="M223,823.9 222.6,822.9 221.5,821.6 220.2,820.5 219.2,820.1 219.2,808.5 217.3,808.2 215.4,808.1 213.5,808.2 211.6,808.5 211.6,820.1 210.6,820.5 209.3,821.6 208.2,822.9 207.8,823.9 196.2,823.9 195.9,825.8 195.8,827.7 195.9,829.6 196.2,831.5 196.2,831.6 207.8,831.6 208.2,832.5 209.3,833.8 210.6,834.9 211.6,835.3 211.6,846.9 213.5,847.2 215.4,847.3 217.3,847.2 219.2,846.9 219.2,835.3 220.2,834.9 221.5,833.8 222.6,832.5 223,831.6 234.6,831.6 234.6,831.5 234.9,829.6 235,827.7 234.9,825.8 234.6,823.9Z M609,830.1 609.4,831.1 610.5,832.4 611.8,833.5 612.8,833.9 612.8,845.5 614.7,845.8 616.6,845.9 618.5,845.8 620.4,845.5 620.5,845.5 620.5,833.9 621.4,833.5 622.7,832.4 623.8,831.1 624.2,830.1 635.8,830.1 636.1,828.2 636.2,826.3 636.1,824.4 635.8,822.5 635.8,822.4 624.2,822.4 623.8,821.5 622.7,820.2 621.4,819.1 620.5,818.7 620.5,807.1 620.4,807.1 618.5,806.8 616.6,806.7 614.7,806.8 612.8,807.1 612.8,818.7 611.8,819.1 610.5,820.2 609.4,821.5 609,822.4 597.4,822.4 597.4,822.5 597.1,824.4 597,826.3 597.1,828.2 597.4,830.1Z M349.4,760.2 483.6,760.2 483.6,894.2 349.4,894.2Z"/>
<path stroke-width="1.2" d="M304.6,561.8 305.1,561.8 305.6,561.9 306.1,562 306.6,562.2 307.1,562.4 307.6,562.6 308,562.9 308.4,563.2 308.8,563.5 309.1,563.9 309.4,564.3 309.7,564.7 309.9,565.2 310.1,565.7 310.3,566.2 310.4,566.7 310.5,567.2 310.5,567.7 310.5,568.2 310.4,568.7 310.3,569.2 310.1,569.7 309.9,570.2 309.7,570.7 309.4,571.1 309.1,571.5 308.8,571.9 308.4,572.2 308,572.5 307.6,572.8 307.1,573 306.6,573.2 306.1,573.4 305.6,573.5 305.1,573.6 304.6,573.6 242.1,573.6 241.6,573.6 241.1,573.5 240.6,573.4 240.1,573.2 239.6,573 239.2,572.8 238.7,572.5 238.3,572.2 237.9,571.9 237.6,571.5 237.3,571.1 237,570.7 236.8,570.2 236.6,569.7 236.4,569.2 236.3,568.7 236.2,568.2 236.2,567.7 236.2,567.2 236.3,566.7 236.4,566.2 236.6,565.7 236.8,565.2 237,564.7 237.3,564.3 237.6,563.9 237.9,563.5 238.3,563.2 238.7,562.9 239.1,562.6 239.6,562.4 240.1,562.2 240.6,562 241.1,561.9 241.6,561.8 242.1,561.8Z M527.4,561.8 526.9,561.8 526.4,561.9 525.9,562 525.4,562.2 524.9,562.4 524.5,562.6 524,562.9 523.6,563.2 523.2,563.5 522.9,563.9 522.6,564.3 522.3,564.7 522.1,565.2 521.9,565.7 521.7,566.2 521.6,566.7 521.5,567.2 521.5,567.7 521.5,568.2 521.6,568.7 521.7,569.2 521.9,569.7 522.1,570.2 522.3,570.7 522.6,571.1 522.9,571.5 523.2,571.9 523.6,572.2 524,572.5 524.5,572.8 524.9,573 525.4,573.2 525.9,573.4 526.4,573.5 526.9,573.6 527.4,573.6 589.9,573.6 590.4,573.6 590.9,573.5 591.4,573.4 591.9,573.2 592.4,573 592.9,572.8 593.3,572.5 593.7,572.2 594.1,571.9 594.4,571.5 594.7,571.1 595,570.7 595.2,570.2 595.4,569.7 595.6,569.2 595.7,568.7 595.8,568.2 595.8,567.7 595.8,567.2 595.7,566.7 595.6,566.2 595.4,565.7 595.2,565.2 595,564.7 594.7,564.3 594.4,563.9 594.1,563.5 593.7,563.2 593.3,562.9 592.9,562.6 592.4,562.4 591.9,562.2 591.4,562 590.9,561.9 590.4,561.8 589.9,561.8Z M304.6,1092.2 305.1,1092.2 305.6,1092.1 306.1,1092 306.6,1091.8 307.1,1091.6 307.6,1091.4 308,1091.1 308.4,1090.8 308.8,1090.5 309.1,1090.1 309.4,1089.7 309.7,1089.2 309.9,1088.8 310.1,1088.3 310.3,1087.8 310.4,1087.3 310.5,1086.8 310.5,1086.3 310.5,1085.8 310.4,1085.3 310.3,1084.8 310.1,1084.3 309.9,1083.8 309.7,1083.3 309.4,1082.9 309.1,1082.5 308.8,1082.1 308.4,1081.8 308,1081.5 307.6,1081.2 307.1,1081 306.6,1080.8 306.1,1080.6 305.6,1080.5 305.1,1080.4 304.6,1080.4 242.1,1080.4 241.6,1080.4 241.1,1080.5 240.6,1080.6 240.1,1080.8 239.6,1081 239.2,1081.2 238.7,1081.5 238.3,1081.8 237.9,1082.1 237.6,1082.5 237.3,1082.9 237,1083.3 236.8,1083.8 236.6,1084.3 236.4,1084.8 236.3,1085.3 236.2,1085.8 236.2,1086.3 236.2,1086.8 236.3,1087.3 236.4,1087.8 236.6,1088.3 236.8,1088.8 237,1089.2 237.3,1089.7 237.6,1090.1 237.9,1090.5 238.3,1090.8 238.7,1091.1 239.1,1091.4 239.6,1091.6 240.1,1091.8 240.6,1092 241.1,1092.1 241.6,1092.2 242.1,1092.2Z M527.4,1092.2 526.9,1092.2 526.4,1092.1 525.9,1092 525.4,1091.8 524.9,1091.6 524.5,1091.4 524,1091.1 523.6,1090.8 523.2,1090.5 522.9,1090.1 522.6,1089.7 522.3,1089.2 522.1,1088.8 521.9,1088.3 521.7,1087.8 521.6,1087.3 521.5,1086.8 521.5,1086.3 521.5,1085.8 521.6,1085.3 521.7,1084.8 521.9,1084.3 522.1,1083.8 522.3,1083.3 522.6,1082.9 522.9,1082.5 523.2,1082.1 523.6,1081.8 524,1081.5 524.5,1081.2 524.9,1081 525.4,1080.8 525.9,1080.6 526.4,1080.5 526.9,1080.4 527.4,1080.4 589.9,1080.4 590.4,1080.4 590.9,1080.5 591.4,1080.6 591.9,1080.8 592.4,1081 592.9,1081.2 593.3,1081.5 593.7,1081.8 594.1,1082.1 594.4,1082.5 594.7,1082.9 595,1083.3 595.2,1083.8 595.4,1084.3 595.6,1084.8 595.7,1085.3 595.8,1085.8 595.8,1086.3 595.8,1086.8 595.7,1087.3 595.6,1087.8 595.4,1088.3 595.2,1088.8 595,1089.2 594.7,1089.7 594.4,1090.1 594.1,1090.5 593.7,1090.8 593.3,1091.1 592.9,1091.4 592.4,1091.6 591.9,1091.8 591.4,1092 590.9,1092.1 590.4,1092.2 589.9,1092.2Z M170.7,641 170.7,719 M155.7,646.3 156.2,646.3 156.7,646.4 157.1,646.5 157.6,646.6 158,646.8 158.4,647 158.9,647.3 159.2,647.6 159.6,647.9 159.9,648.3 160.2,648.6 160.5,649 160.7,649.5 160.9,649.9 161,650.4 161.1,650.8 161.2,651.3 161.2,651.8 161.2,717.7 161.2,718.2 161.1,718.7 161,719.1 160.9,719.6 160.7,720 160.5,720.5 160.2,720.9 159.9,721.2 159.6,721.6 159.2,721.9 158.9,722.2 158.4,722.5 158,722.7 157.6,722.9 157.1,723 156.7,723.1 156.2,723.2 155.7,723.2 155.2,723.2 154.7,723.1 154.3,723 153.8,722.9 153.4,722.7 152.9,722.5 152.5,722.2 152.2,721.9 151.8,721.6 151.5,721.2 151.2,720.9 150.9,720.5 150.7,720 150.5,719.6 150.4,719.1 150.3,718.7 150.2,718.2 150.2,717.7 150.2,651.8 150.2,651.3 150.3,650.8 150.4,650.4 150.5,649.9 150.7,649.5 150.9,649 151.2,648.6 151.5,648.3 151.8,647.9 152.2,647.6 152.5,647.3 152.9,647 153.4,646.8 153.8,646.6 154.3,646.5 154.7,646.4 155.2,646.3 155.7,646.3Z M191.2,652 191.2,703.6 M170.7,1013 170.7,935 M155.7,1007.7 156.2,1007.7 156.7,1007.6 157.1,1007.5 157.6,1007.4 158,1007.2 158.4,1007 158.9,1006.7 159.2,1006.4 159.6,1006.1 159.9,1005.7 160.2,1005.4 160.5,1005 160.7,1004.5 160.9,1004.1 161,1003.6 161.1,1003.2 161.2,1002.7 161.2,1002.2 161.2,936.3 161.2,935.8 161.1,935.3 161,934.9 160.9,934.4 160.7,934 160.5,933.5 160.2,933.1 159.9,932.8 159.6,932.4 159.2,932.1 158.9,931.8 158.4,931.5 158,931.3 157.6,931.1 157.1,931 156.7,930.9 156.2,930.8 155.7,930.8 155.2,930.8 154.7,930.9 154.3,931 153.8,931.1 153.4,931.3 152.9,931.5 152.5,931.8 152.2,932.1 151.8,932.4 151.5,932.8 151.2,933.1 150.9,933.5 150.7,934 150.5,934.4 150.4,934.9 150.3,935.3 150.2,935.8 150.2,936.3 150.2,1002.2 150.2,1002.7 150.3,1003.2 150.4,1003.6 150.5,1004.1 150.7,1004.5 150.9,1005 151.2,1005.4 151.5,1005.7 151.8,1006.1 152.2,1006.4 152.5,1006.7 152.9,1007 153.4,1007.2 153.8,1007.4 154.3,1007.5 154.7,1007.6 155.2,1007.7 155.7,1007.7Z M191.2,1002 191.2,950.4 M661.3,1013 661.3,935 M676.3,1007.7 675.8,1007.7 675.3,1007.6 674.9,1007.5 674.4,1007.4 674,1007.2 673.5,1007 673.1,1006.7 672.8,1006.4 672.4,1006.1 672.1,1005.7 671.8,1005.4 671.5,1005 671.3,1004.5 671.1,1004.1 671,1003.6 670.9,1003.2 670.8,1002.7 670.8,1002.2 670.8,936.3 670.8,935.8 670.9,935.3 671,934.9 671.1,934.4 671.3,934 671.5,933.5 671.8,933.1 672.1,932.8 672.4,932.4 672.8,932.1 673.1,931.8 673.5,931.5 674,931.3 674.4,931.1 674.9,931 675.3,930.9 675.8,930.8 676.3,930.8 676.8,930.8 677.3,930.9 677.7,931 678.2,931.1 678.6,931.3 679,931.5 679.5,931.8 679.8,932.1 680.2,932.4 680.5,932.8 680.8,933.1 681.1,933.5 681.3,934 681.5,934.4 681.6,934.9 681.7,935.3 681.8,935.8 681.8,936.3 681.8,1002.2 681.8,1002.7 681.7,1003.2 681.6,1003.6 681.5,1004.1 681.3,1004.5 681.1,1005 680.8,1005.4 680.5,1005.7 680.2,1006.1 679.8,1006.4 679.5,1006.7 679,1007 678.6,1007.2 678.2,1007.4 677.7,1007.5 677.3,1007.6 676.8,1007.7 676.3,1007.7Z M640.8,1002 640.8,950.4 M661.3,641 661.3,719 M676.3,646.3 675.8,646.3 675.3,646.4 674.9,646.5 674.4,646.6 674,646.8 673.5,647 673.1,647.3 672.8,647.6 672.4,647.9 672.1,648.3 671.8,648.6 671.5,649 671.3,649.5 671.1,649.9 671,650.4 670.9,650.8 670.8,651.3 670.8,651.8 670.8,717.7 670.8,718.2 670.9,718.7 671,719.1 671.1,719.6 671.3,720 671.5,720.5 671.8,720.9 672.1,721.2 672.4,721.6 672.8,721.9 673.1,722.2 673.5,722.5 674,722.7 674.4,722.9 674.9,723 675.3,723.1 675.8,723.2 676.3,723.2 676.8,723.2 677.3,723.1 677.7,723 678.2,722.9 678.6,722.7 679,722.5 679.5,722.2 679.8,721.9 680.2,721.6 680.5,721.2 680.8,720.9 681.1,720.5 681.3,720 681.5,719.6 681.6,719.1 681.7,718.7 681.8,718.2 681.8,717.7 681.8,651.8 681.8,651.3 681.7,650.8 681.6,650.4 681.5,649.9 681.3,649.5 681.1,649 680.8,648.6 680.5,648.3 680.2,647.9 679.8,647.6 679.5,647.3 679,647 678.6,646.8 678.2,646.6 677.7,646.5 677.3,646.4 676.8,646.3 676.3,646.3Z M640.8,652 640.8,703.6 M418.9,740.4 419.1,740.4 419.3,740.4 419.5,740.5 419.8,740.6 420,740.6 420.1,740.7 420.3,740.9 420.5,741 420.7,741.1 420.8,741.3 420.9,741.5 421.1,741.6 421.2,741.8 421.2,742 421.3,742.3 421.4,742.5 421.4,742.7 421.4,742.9 421.4,747.5 421.4,747.7 421.4,747.9 421.3,748.1 421.2,748.4 421.2,748.6 421.1,748.8 420.9,748.9 420.8,749.1 420.7,749.3 420.5,749.4 420.3,749.5 420.1,749.7 420,749.8 419.8,749.8 419.5,749.9 419.3,750 419.1,750 418.9,750 413.2,750 413,750 412.8,750 412.6,749.9 412.3,749.8 412.1,749.8 411.9,749.7 411.8,749.5 411.6,749.4 411.4,749.3 411.3,749.1 411.2,748.9 411,748.8 410.9,748.6 410.9,748.4 410.8,748.1 410.7,747.9 410.7,747.7 410.7,747.5 410.7,742.9 410.7,742.7 410.7,742.5 410.8,742.3 410.9,742 410.9,741.8 411,741.6 411.2,741.5 411.3,741.3 411.4,741.1 411.6,741 411.8,740.9 411.9,740.7 412.1,740.6 412.3,740.6 412.6,740.5 412.8,740.4 413,740.4 413.2,740.4Z"/>
<path stroke-width="1.3" d="M143.3,554.2 m-22.9,0 a22.9,22.9 0 1,0 45.8,0 a22.9,22.9 0 1,0 -45.8,0Z M143.3,1099.8 m-22.9,0 a22.9,22.9 0 1,0 45.8,0 a22.9,22.9 0 1,0 -45.8,0Z M688.7,1099.8 m-22.9,0 a22.9,22.9 0 1,0 45.8,0 a22.9,22.9 0 1,0 -45.8,0Z M688.7,554.2 m-22.9,0 a22.9,22.9 0 1,0 45.8,0 a22.9,22.9 0 1,0 -45.8,0Z M276,630.9 556.2,630.9 590.7,661.7 590.7,992.2 556.2,1023 276,1023 241.5,992.2 241.5,661.7Z M324.3,735.3 507.9,735.3 507.9,919.3 324.3,919.3Z M394.7,735.3 394.7,757.1 M437.6,735.3 437.6,757.1 M394.7,897.1 394.7,919.3 M437.6,897.1 437.6,919.3"/>
<path stroke-width="1.4" d="M474.9,807.1 475.4,807.1 475.9,807.3 476.4,807.5 476.8,807.8 477.2,808.2 477.5,808.6 477.7,809.1 477.9,809.6 477.9,810.1 477.9,833.6 461.4,847.1 370,847.1 355,833.6 355,810.1 355,809.6 355.2,809.1 355.4,808.6 355.7,808.2 356.1,807.8 356.5,807.5 357,807.3 357.5,807.1 358,807.1Z M371,822.6 460.4,822.6 455.5,831.4 376.6,831.4Z"/>
<path stroke-width="1.5" d="M215.4,827.7 m-19.6,0 a19.6,19.6 0 1,0 39.2,0 a19.6,19.6 0 1,0 -39.2,0Z M616.6,826.3 m-19.6,0 a19.6,19.6 0 1,0 39.2,0 a19.6,19.6 0 1,0 -39.2,0Z M274.8,628.2 557.4,628.2 592.8,659.8 592.8,994.1 557.4,1025.7 274.8,1025.7 239.4,994.1 239.4,659.8Z M280.2,642.1 552.3,642.1 578,664.4 578,989.7 552.3,1012 280.2,1012 254.5,989.7 254.5,664.4Z M406.8,688.5 406.8,693.8 424.6,693.8 424.6,688.5 M618.9,548 628.6,548 628.6,552 623,552 623,564.7 628.6,564.7 628.6,569.2 623,569.2 623,582.4 628.6,582.4 628.6,586.5 618.9,586.5Z M631.2,548 644.7,548 644.7,586.5 640.2,586.5 640.2,569.2 635.4,569.2 635.4,586.5 631.2,586.5Z M635.4,552 640.2,552 640.2,565.1 635.4,565.1Z M647,548 656.7,548 656.7,552.4 651.1,552.4 651.1,582.4 656.7,582.4 656.7,586.5 647,586.5Z M634.8,595.8 633.3,595.8 631.7,596 630.2,596.3 628.8,596.8 627.3,597.5 625.9,598.3 624.6,599.2 623.4,600.3 622.3,601.5 621.2,602.8 620.2,604.2 619.4,605.7 618.7,607.3 618.1,608.9 617.6,610.7 617.3,612.4 617.1,614.2 617,616 617.1,617.8 617.3,619.6 617.6,621.3 618.1,623.1 618.7,624.7 619.4,626.3 620.2,627.8 621.2,629.2 622.3,630.5 623.4,631.7 624.6,632.8 625.9,633.7 627.3,634.5 628.8,635.2 630.2,635.7 631.7,636 633.3,636.2 634.8,636.2 633.8,629.8 632.7,629.7 631.7,629.5 630.7,629.2 629.7,628.8 628.7,628.3 627.8,627.7 626.9,627 626.1,626.2 625.4,625.4 624.7,624.4 624.1,623.5 623.6,622.4 623.1,621.3 622.8,620.2 622.5,619 622.3,617.8 622.2,616.6 622.2,615.4 622.3,614.2 622.5,613 622.8,611.8 623.1,610.7 623.6,609.6 624.1,608.5 624.7,607.6 625.4,606.6 626.1,605.8 626.9,605 627.8,604.3 628.7,603.7 629.7,603.2 630.7,602.8 631.7,602.5 632.7,602.3 633.8,602.2Z M658.8,595.8 657.3,595.8 655.8,596 654.4,596.3 653,596.8 651.6,597.5 650.3,598.3 649,599.2 647.8,600.3 646.7,601.5 645.7,602.8 644.8,604.2 644,605.7 643.3,607.3 642.7,608.9 642.3,610.7 642,612.4 641.8,614.2 641.7,616 641.8,617.8 642,619.6 642.3,621.3 642.7,623.1 643.3,624.7 644,626.3 644.8,627.8 645.7,629.2 646.7,630.5 647.8,631.7 649,632.8 650.3,633.7 651.6,634.5 653,635.2 654.4,635.7 655.8,636 657.3,636.2 658.8,636.2 657.8,629.8 656.8,629.7 655.8,629.5 654.8,629.2 653.8,628.8 652.9,628.3 652,627.7 651.1,627 650.4,626.2 649.6,625.3 649,624.4 648.4,623.4 647.9,622.3 647.5,621.2 647.1,620.1 646.9,618.9 646.6,619.1 654.8,619.1 654.8,612.3 646.6,612.3 646.9,613.1 647.1,611.9 647.5,610.8 647.9,609.7 648.4,608.6 649,607.6 649.6,606.7 650.4,605.8 651.1,605 652,604.3 652.9,603.7 653.8,603.2 654.8,602.8 655.8,602.5 656.8,602.3 657.8,602.2Z"/>
<path stroke-width="1.6" d="M141.4,786.9 139.2,784.9 137.3,782.7 135.7,780.4 134.3,777.8 133.2,775.1 132.4,772.4 131.8,769.5 131.6,766.6 131.7,763.7 132.1,760.9 132.8,758 133.8,755.3 135.1,752.7 136.6,750.3 138.4,748 140.4,745.9 142.7,744.1 145.1,742.5 147.6,741.1 150.3,740.1 153.1,739.3 156,738.9 158.9,738.7 161.8,738.9 164.7,739.3 167.5,740.1 170.2,741.1 172.7,742.5 175.1,744.1 177.4,745.9 179.4,748 181.2,750.3 182.7,752.7 184,755.3 185,758 185.7,760.9 186.1,763.7 186.2,766.6 186,769.5 185.4,772.4 184.6,775.1 183.5,777.8 182.1,780.4 180.5,782.7 178.6,784.9 176.4,786.9 174.5,788.7 173.3,790.3 173,792 173.8,876 173.6,877.7 173.4,879.3 172.9,880.9 172.3,882.4 171.6,883.9 170.7,885.3 169.6,886.6 168.5,887.7 167.2,888.8 165.8,889.7 164.3,890.4 162.8,891 161.2,891.5 159.6,891.7 157.9,891.8 156.2,891.7 154.6,891.5 153,891 151.5,890.4 150,889.7 148.6,888.8 147.3,887.7 146.2,886.6 145.1,885.3 144.2,883.9 143.5,882.4 142.9,880.9 142.4,879.3 142.2,877.7 142.1,876 142.1,792 141.8,790.1 141.4,788.5Z M690.6,867.1 692.8,869.1 694.7,871.3 696.3,873.6 697.7,876.2 698.8,878.9 699.6,881.6 700.2,884.5 700.4,887.4 700.3,890.3 699.9,893.1 699.2,896 698.2,898.7 696.9,901.3 695.4,903.7 693.6,906 691.6,908.1 689.3,909.9 686.9,911.5 684.4,912.9 681.7,913.9 678.9,914.7 676,915.1 673.1,915.3 670.2,915.1 667.3,914.7 664.5,913.9 661.8,912.9 659.3,911.5 656.9,909.9 654.6,908.1 652.6,906 650.8,903.7 649.3,901.3 648,898.7 647,896 646.3,893.1 645.9,890.3 645.8,887.4 646,884.5 646.6,881.6 647.4,878.9 648.5,876.2 649.9,873.6 651.5,871.3 653.4,869.1 655.6,867.1 657.5,865.3 658.7,863.7 659,862 658.2,778 658.4,776.3 658.6,774.7 659.1,773.1 659.7,771.6 660.4,770.1 661.3,768.7 662.4,767.4 663.5,766.3 664.8,765.2 666.2,764.3 667.7,763.6 669.2,763 670.8,762.5 672.4,762.3 674.1,762.2 675.8,762.3 677.4,762.5 679,763 680.5,763.6 682,764.3 683.4,765.2 684.7,766.3 685.8,767.4 686.9,768.7 687.8,770.1 688.5,771.6 689.1,773.1 689.6,774.7 689.8,776.3 689.9,778 689.9,862 690.2,863.9 690.6,865.5Z M201.4,573.4 199.4,572.1 197.3,571 195.2,570.1 192.9,569.3 190.6,568.8 188.3,568.6 186,568.5 183.6,568.7 181.3,569 179.1,569.6 176.8,570.5 174.7,571.5 172.7,572.7 170.7,574.1 168.9,575.7 167.2,577.4 165.7,579.3 164.4,581.3 163.2,583.5 162.2,585.7 161.4,588.1 160.7,590.5 160.3,593 160.1,595.5 160.1,597.9 160.3,600.4 160.7,602.9 161.4,605.3 162.2,607.7 163.2,609.9 164.4,612.1 165.7,614.1 167.2,616 168.9,617.7 170.7,619.3 172.7,620.7 174.7,621.9 176.8,622.9 179.1,623.8 181.3,624.4 183.6,624.7 186,624.9 188.3,624.8 190.6,624.6 192.9,624.1 195.2,623.3 197.3,622.4 199.4,621.3 201.4,620 201.4,604.5 200.8,606.1 199.8,607.6 198.6,609.1 197.4,610.4 196,611.5 194.6,612.6 193,613.5 191.4,614.3 189.7,615 187.9,615.5 186.2,615.8 184.4,616 182.6,616 180.8,615.8 179,615.5 177.2,615.1 175.5,614.5 173.9,613.7 172.3,612.8 170.8,611.7 169.5,610.6 168.2,609.3 167,607.9 166,606.4 165.1,604.8 164.4,603.2 163.8,601.5 163.3,599.7 163,597.9 162.9,596.1 162.9,594.3 163.1,592.5 163.5,590.8 164,589 164.7,587.3 165.5,585.7 166.4,584.2 167.5,582.7 168.7,581.4 170,580.1 171.4,579 172.9,578 174.5,577.2 176.2,576.5 177.9,575.9 179.7,575.5 181.5,575.3 183.3,575.2 194.7,575.2 194.7,581.3 185.5,581.4 184.2,581.5 183,581.6 181.7,581.9 180.5,582.3 179.3,582.8 178.2,583.4 177.1,584 176.1,584.8 175.2,585.7 174.3,586.6 173.5,587.6 172.9,588.7 172.3,589.8 171.8,591 171.4,592.2 171.1,593.5 171,594.7 170.9,596 171,597.3 171.1,598.5 171.4,599.8 171.8,601 172.3,602.2 172.9,603.3 173.5,604.4 174.3,605.4 175.2,606.3 176.1,607.2 177.1,608 178.2,608.6 179.3,609.2 180.5,609.7 181.7,610.1 183,610.4 184.2,610.5 185.5,610.6 186.8,610.5 188,610.4 189.3,610.1 190.5,609.7 191.7,609.2 192.8,608.6 193.9,608 194.9,607.2 195.8,606.3 196.7,605.4 197.5,604.4 198.1,603.3 198.7,602.2 199.2,601 199.6,599.8 199.9,598.5 201.4,593.5Z M207.9,576.4 209.7,576.7 211.4,577.7 213,579.3 214.5,581.4 215.7,584.1 216.7,587.1 217.5,590.5 217.9,594.1 218.1,597.9 217.9,601.6 217.5,605.2 216.7,608.6 215.7,611.6 214.5,614.3 213,616.4 211.4,618 209.7,619 207.9,619.3Z"/>
<path stroke-width="1.7" d="M96.3,613.5 96.7,614.3 97.5,614.5 124.7,610.2 125.6,610.4 126,611.3 125.9,646.4 125.4,646.9 124.9,647 110.3,647 109.6,647.3 109.3,648 109.3,1006.5 109,1007.3 108.3,1007.6 97.2,1008.9 96.6,1009.2 96.3,1009.9 96.3,1033.9 96.6,1034.6 97.4,1034.9 124.4,1031.9 125.3,1032.2 125.7,1033 127.4,1067.8 126.8,1068.3 126.3,1068.4 110.4,1067.4 109.6,1067.6 109.3,1068.4 109.3,1099 109.4,1102.1 109.8,1105.1 110.5,1108 111.4,1110.9 112.6,1113.7 114,1116.4 115.6,1118.9 117.4,1121.3 119.5,1123.6 121.7,1125.6 124.1,1127.4 126.6,1129 129.4,1130.5 132.2,1131.6 135,1132.5 138,1133.2 141,1133.6 144,1133.7 178.4,1133.8 178.9,1134.3 179,1134.7 180.2,1146.4 180.5,1147 181.2,1147.3 202.6,1147.3 203.4,1147 203.6,1146.2 199.5,1116.5 199.7,1115.7 200.6,1115.3 236.1,1115.4 236.6,1115.9 236.7,1116.4 237.4,1132.7 237.7,1133.4 238.4,1133.7 594.7,1133.7 595.5,1134 595.8,1134.7 597.3,1146.1 597.4,1146.5 597.9,1146.9 623.5,1147 624.3,1146.6 624.5,1145.8 619.7,1117 619.7,1116.4 620.3,1115.8 657.5,1115.8 658,1116.4 658.1,1116.9 656.3,1132.6 656.6,1133.4 657.3,1133.7 688,1133.7 691.1,1133.6 694.1,1133.2 697,1132.5 699.9,1131.6 702.7,1130.4 705.4,1129 707.9,1127.4 710.3,1125.6 712.6,1123.5 714.6,1121.3 716.4,1118.9 718,1116.4 719.5,1113.6 720.6,1110.9 721.5,1108 722.2,1105 722.6,1102 722.7,1099 722.8,1066.9 723.3,1066.4 723.7,1066.3 734.8,1065.1 735.4,1064.8 735.7,1064.1 735.7,1040.5 735.3,1039.7 734.5,1039.5 707.3,1043.8 706.4,1043.6 706,1042.7 706.1,1007.6 706.6,1007.1 707.1,1007 721.7,1007 722.4,1006.7 722.7,1006 722.7,647.5 723,646.7 723.7,646.4 734.8,645.1 735.2,645 735.6,644.5 735.7,620.1 735.4,619.4 734.6,619.1 707.6,622.1 707.1,622 706.5,621.5 704.6,586.2 705.2,585.7 705.7,585.6 721.6,586.6 722.4,586.4 722.7,585.6 722.7,555 722.6,551.9 722.2,548.9 721.5,546 720.6,543.1 719.4,540.3 718,537.6 716.4,535.1 714.6,532.7 712.5,530.4 710.3,528.4 707.9,526.6 705.4,525 702.6,523.5 699.8,522.4 697,521.5 694,520.8 691,520.4 688,520.3 653.6,520.2 653.1,519.7 653,519.3 651.8,507.6 651.5,507 650.8,506.7 629.4,506.7 628.6,507 628.4,507.8 632.5,537.5 632.3,538.3 631.4,538.7 595.9,538.6 595.4,538.1 595.3,537.6 594.6,521.3 594.3,520.6 593.6,520.3 237.3,520.3 236.5,520 236.2,519.3 234.7,507.9 234.4,507.2 234.1,507.1 208.5,507 207.7,507.4 207.5,508.2 212.3,537 212.3,537.6 211.7,538.2 174.5,538.2 174,537.6 173.9,537.1 175.7,521.4 175.4,520.6 174.7,520.3 144,520.3 140.9,520.4 137.9,520.8 135,521.5 132.2,522.4 129.3,523.6 126.6,525 124.1,526.6 121.7,528.4 119.5,530.4 117.4,532.7 115.6,535.1 113.9,537.7 112.5,540.4 111.4,543.1 110.5,546 109.8,548.9 109.4,551.9 109.3,555 109.2,587.1 108.7,587.6 108.3,587.7 97.2,588.9 96.8,589 96.4,589.5Z M143.3,554.2 m-16.8,0 a16.8,16.8 0 1,0 33.6,0 a16.8,16.8 0 1,0 -33.6,0Z M143.3,1099.8 m-16.8,0 a16.8,16.8 0 1,0 33.6,0 a16.8,16.8 0 1,0 -33.6,0Z M688.7,1099.8 m-16.8,0 a16.8,16.8 0 1,0 33.6,0 a16.8,16.8 0 1,0 -33.6,0Z M688.7,554.2 m-16.8,0 a16.8,16.8 0 1,0 33.6,0 a16.8,16.8 0 1,0 -33.6,0Z M367.5,585 377.9,584.5 388.5,584 399.1,583.6 409.7,583.3 420.2,583.2 430.5,583.2 440.5,583.4 450.2,583.8 365.8,584.9 364.2,584.7 362.6,584.2 361,583.6 359.5,582.9 358.1,581.9 356.8,580.9 355.6,579.7 354.6,578.4 353.6,577 352.9,575.5 352.3,573.9 351.8,572.3 351.6,570.7 351.5,569 351.6,567.3 351.8,565.7 352.3,564.1 352.9,562.5 353.6,561 354.6,559.6 355.6,558.3 356.8,557.1 358.1,556.1 359.5,555.1 361,554.4 362.6,553.8 364.2,553.3 365.8,553.1 367.5,553 377.9,552.5 388.5,552.1 399.2,551.8 410.1,551.7 420.9,551.6 431.7,551.7 442.3,552 452.9,552.3 455.1,550 457.6,547.9 460.2,546.2 463.1,544.7 466.1,543.7 469.2,542.9 M450.2,583.8 451.9,586.4 454,588.9 456.3,591.1 458.9,593 461.7,594.6 464.6,595.8 M464.5,1069 454.1,1069.5 443.5,1070 432.9,1070.4 422.3,1070.7 411.8,1070.8 401.5,1070.8 391.5,1070.6 381.8,1070.2 466.2,1069.1 467.8,1069.3 469.4,1069.8 471,1070.4 472.5,1071.1 473.9,1072.1 475.2,1073.1 476.4,1074.3 477.4,1075.6 478.4,1077 479.1,1078.5 479.7,1080.1 480.2,1081.7 480.4,1083.3 480.5,1085 480.4,1086.7 480.2,1088.3 479.7,1089.9 479.1,1091.5 478.4,1093 477.4,1094.4 476.4,1095.7 475.2,1096.9 473.9,1097.9 472.5,1098.9 471,1099.6 469.4,1100.2 467.8,1100.7 466.2,1100.9 464.5,1101 454.1,1101.5 443.5,1101.9 432.8,1102.2 421.9,1102.3 411.1,1102.4 400.3,1102.3 389.7,1102 379.1,1101.7 376.9,1104 374.4,1106.1 371.8,1107.8 368.9,1109.3 365.9,1110.3 362.8,1111.1 M381.8,1070.2 380.1,1067.6 378,1065.1 375.7,1062.9 373.1,1061 370.3,1059.4 367.4,1058.2 M184.2,651.7 213.4,651.7 213.4,703.9 184.2,703.9Z M184.2,1002.3 213.4,1002.3 213.4,950.1 184.2,950.1Z M647.8,1002.3 618.6,1002.3 618.6,950.1 647.8,950.1Z M647.8,651.7 618.6,651.7 618.6,703.9 647.8,703.9Z M272.9,625 559.3,625 596.1,657.9 596.1,996 559.3,1028.9 272.9,1028.9 236.1,996 236.1,657.9Z"/>
<path stroke-width="1.8" d="M156.5,643.5 157.3,643.5 158.1,643.6 158.9,643.8 159.6,644.1 160.4,644.4 161.1,644.7 161.8,645.2 162.4,645.7 163,646.2 163.5,646.8 164,647.4 164.5,648.1 164.8,648.8 165.1,649.6 165.4,650.3 165.6,651.1 165.7,651.9 165.7,652.7 165.7,716.5 165.7,717.3 165.6,718.1 165.4,718.9 165.1,719.6 164.8,720.4 164.5,721.1 164,721.8 163.5,722.4 163,723 162.4,723.5 161.8,724 161.1,724.5 160.4,724.8 159.6,725.1 158.9,725.4 158.1,725.6 157.3,725.7 156.5,725.7 156.4,725.7 155.6,725.7 154.8,725.6 154,725.4 153.3,725.1 152.5,724.8 151.8,724.5 151.1,724 150.5,723.5 149.9,723 149.4,722.4 148.9,721.8 148.4,721.1 148.1,720.4 147.8,719.6 147.5,718.9 147.3,718.1 147.2,717.3 147.2,716.5 147.2,652.7 147.2,651.9 147.3,651.1 147.5,650.3 147.8,649.6 148.1,648.8 148.4,648.1 148.9,647.4 149.4,646.8 149.9,646.2 150.5,645.7 151.1,645.2 151.8,644.7 152.5,644.4 153.3,644.1 154,643.8 154.8,643.6 155.6,643.5 156.4,643.5Z M156.5,1010.5 157.3,1010.5 158.1,1010.4 158.9,1010.2 159.6,1009.9 160.4,1009.6 161.1,1009.3 161.8,1008.8 162.4,1008.3 163,1007.8 163.5,1007.2 164,1006.6 164.5,1005.9 164.8,1005.2 165.1,1004.4 165.4,1003.7 165.6,1002.9 165.7,1002.1 165.7,1001.3 165.7,937.5 165.7,936.7 165.6,935.9 165.4,935.1 165.1,934.4 164.8,933.6 164.5,932.9 164,932.2 163.5,931.6 163,931 162.4,930.5 161.8,930 161.1,929.5 160.4,929.2 159.6,928.9 158.9,928.6 158.1,928.4 157.3,928.3 156.5,928.3 156.4,928.3 155.6,928.3 154.8,928.4 154,928.6 153.3,928.9 152.5,929.2 151.8,929.5 151.1,930 150.5,930.5 149.9,931 149.4,931.6 148.9,932.2 148.4,932.9 148.1,933.6 147.8,934.4 147.5,935.1 147.3,935.9 147.2,936.7 147.2,937.5 147.2,1001.3 147.2,1002.1 147.3,1002.9 147.5,1003.7 147.8,1004.4 148.1,1005.2 148.4,1005.9 148.9,1006.6 149.4,1007.2 149.9,1007.8 150.5,1008.3 151.1,1008.8 151.8,1009.3 152.5,1009.6 153.3,1009.9 154,1010.2 154.8,1010.4 155.6,1010.5 156.4,1010.5Z M675.5,1010.5 674.7,1010.5 673.9,1010.4 673.1,1010.2 672.4,1009.9 671.6,1009.6 670.9,1009.3 670.2,1008.8 669.6,1008.3 669,1007.8 668.5,1007.2 668,1006.6 667.5,1005.9 667.2,1005.2 666.9,1004.4 666.6,1003.7 666.4,1002.9 666.3,1002.1 666.3,1001.3 666.3,937.5 666.3,936.7 666.4,935.9 666.6,935.1 666.9,934.4 667.2,933.6 667.5,932.9 668,932.2 668.5,931.6 669,931 669.6,930.5 670.2,930 670.9,929.5 671.6,929.2 672.4,928.9 673.1,928.6 673.9,928.4 674.7,928.3 675.5,928.3 675.6,928.3 676.4,928.3 677.2,928.4 678,928.6 678.7,928.9 679.5,929.2 680.2,929.5 680.9,930 681.5,930.5 682.1,931 682.6,931.6 683.1,932.2 683.6,932.9 683.9,933.6 684.2,934.4 684.5,935.1 684.7,935.9 684.8,936.7 684.8,937.5 684.8,1001.3 684.8,1002.1 684.7,1002.9 684.5,1003.7 684.2,1004.4 683.9,1005.2 683.6,1005.9 683.1,1006.6 682.6,1007.2 682.1,1007.8 681.5,1008.3 680.9,1008.8 680.2,1009.3 679.5,1009.6 678.7,1009.9 678,1010.2 677.2,1010.4 676.4,1010.5 675.6,1010.5Z M675.5,643.5 674.7,643.5 673.9,643.6 673.1,643.8 672.4,644.1 671.6,644.4 670.9,644.7 670.2,645.2 669.6,645.7 669,646.2 668.5,646.8 668,647.4 667.5,648.1 667.2,648.8 666.9,649.6 666.6,650.3 666.4,651.1 666.3,651.9 666.3,652.7 666.3,716.5 666.3,717.3 666.4,718.1 666.6,718.9 666.9,719.6 667.2,720.4 667.5,721.1 668,721.8 668.5,722.4 669,723 669.6,723.5 670.2,724 670.9,724.5 671.6,724.8 672.4,725.1 673.1,725.4 673.9,725.6 674.7,725.7 675.5,725.7 675.6,725.7 676.4,725.7 677.2,725.6 678,725.4 678.7,725.1 679.5,724.8 680.2,724.5 680.9,724 681.5,723.5 682.1,723 682.6,722.4 683.1,721.8 683.6,721.1 683.9,720.4 684.2,719.6 684.5,718.9 684.7,718.1 684.8,717.3 684.8,716.5 684.8,652.7 684.8,651.9 684.7,651.1 684.5,650.3 684.2,649.6 683.9,648.8 683.6,648.1 683.1,647.4 682.6,646.8 682.1,646.2 681.5,645.7 680.9,645.2 680.2,644.7 679.5,644.4 678.7,644.1 678,643.8 677.2,643.6 676.4,643.5 675.6,643.5Z M476.4,802.9 477.3,803 478.1,803.2 478.9,803.6 479.6,804.1 480.2,804.7 480.7,805.4 481.1,806.2 481.3,807 481.4,807.9 481.4,834 476,839.5 462.1,852.1 369.3,852.1 356,839.5 350.7,834 350.7,807.9 350.8,807 351,806.2 351.4,805.4 351.9,804.7 352.5,804.1 353.2,803.6 354,803.2 354.8,803 355.7,802.9Z"/>
<path stroke-width="1.9" d="M305,558.7 305.8,558.7 306.6,558.8 307.3,559 308.1,559.2 308.8,559.5 309.5,559.9 310.2,560.3 310.8,560.8 311.4,561.3 311.9,561.9 312.4,562.5 312.8,563.2 313.2,563.9 313.5,564.6 313.7,565.4 313.9,566.1 314,566.9 314,567.7 314,568.5 313.9,569.3 313.7,570 313.5,570.8 313.2,571.5 312.8,572.2 312.4,572.9 311.9,573.5 311.4,574.1 310.8,574.6 310.2,575.1 309.5,575.5 308.8,575.9 308.1,576.2 307.3,576.4 306.6,576.6 305.8,576.7 305,576.7 241.7,576.7 240.9,576.7 240.1,576.6 239.4,576.4 238.6,576.2 237.9,575.9 237.2,575.5 236.5,575.1 235.9,574.6 235.3,574.1 234.8,573.5 234.3,572.9 233.9,572.2 233.5,571.5 233.2,570.8 233,570 232.8,569.3 232.7,568.5 232.7,567.7 232.7,566.9 232.8,566.1 233,565.4 233.2,564.6 233.5,563.9 233.9,563.2 234.3,562.5 234.8,561.9 235.3,561.3 235.9,560.8 236.5,560.3 237.2,559.9 237.9,559.5 238.6,559.2 239.4,559 240.1,558.8 240.9,558.7 241.7,558.7Z M527,558.7 526.2,558.7 525.4,558.8 524.7,559 523.9,559.2 523.2,559.5 522.5,559.9 521.8,560.3 521.2,560.8 520.6,561.3 520.1,561.9 519.6,562.5 519.2,563.2 518.8,563.9 518.5,564.6 518.3,565.4 518.1,566.1 518,566.9 518,567.7 518,568.5 518.1,569.3 518.3,570 518.5,570.8 518.8,571.5 519.2,572.2 519.6,572.9 520.1,573.5 520.6,574.1 521.2,574.6 521.8,575.1 522.5,575.5 523.2,575.9 523.9,576.2 524.7,576.4 525.4,576.6 526.2,576.7 527,576.7 590.3,576.7 591.1,576.7 591.9,576.6 592.6,576.4 593.4,576.2 594.1,575.9 594.8,575.5 595.5,575.1 596.1,574.6 596.7,574.1 597.2,573.5 597.7,572.9 598.1,572.2 598.5,571.5 598.8,570.8 599,570 599.2,569.3 599.3,568.5 599.3,567.7 599.3,566.9 599.2,566.1 599,565.4 598.8,564.6 598.5,563.9 598.1,563.2 597.7,562.5 597.2,561.9 596.7,561.3 596.1,560.8 595.5,560.3 594.8,559.9 594.1,559.5 593.4,559.2 592.6,559 591.9,558.8 591.1,558.7 590.3,558.7Z M305,1095.3 305.8,1095.3 306.6,1095.2 307.3,1095 308.1,1094.8 308.8,1094.5 309.5,1094.1 310.2,1093.7 310.8,1093.2 311.4,1092.7 311.9,1092.1 312.4,1091.5 312.8,1090.8 313.2,1090.1 313.5,1089.4 313.7,1088.6 313.9,1087.9 314,1087.1 314,1086.3 314,1085.5 313.9,1084.7 313.7,1084 313.5,1083.2 313.2,1082.5 312.8,1081.8 312.4,1081.1 311.9,1080.5 311.4,1079.9 310.8,1079.4 310.2,1078.9 309.5,1078.5 308.8,1078.1 308.1,1077.8 307.3,1077.6 306.6,1077.4 305.8,1077.3 305,1077.3 241.7,1077.3 240.9,1077.3 240.1,1077.4 239.4,1077.6 238.6,1077.8 237.9,1078.1 237.2,1078.5 236.5,1078.9 235.9,1079.4 235.3,1079.9 234.8,1080.5 234.3,1081.1 233.9,1081.8 233.5,1082.5 233.2,1083.2 233,1084 232.8,1084.7 232.7,1085.5 232.7,1086.3 232.7,1087.1 232.8,1087.9 233,1088.6 233.2,1089.4 233.5,1090.1 233.9,1090.8 234.3,1091.5 234.8,1092.1 235.3,1092.7 235.9,1093.2 236.5,1093.7 237.2,1094.1 237.9,1094.5 238.6,1094.8 239.4,1095 240.1,1095.2 240.9,1095.3 241.7,1095.3Z M527,1095.3 526.2,1095.3 525.4,1095.2 524.7,1095 523.9,1094.8 523.2,1094.5 522.5,1094.1 521.8,1093.7 521.2,1093.2 520.6,1092.7 520.1,1092.1 519.6,1091.5 519.2,1090.8 518.8,1090.1 518.5,1089.4 518.3,1088.6 518.1,1087.9 518,1087.1 518,1086.3 518,1085.5 518.1,1084.7 518.3,1084 518.5,1083.2 518.8,1082.5 519.2,1081.8 519.6,1081.1 520.1,1080.5 520.6,1079.9 521.2,1079.4 521.8,1078.9 522.5,1078.5 523.2,1078.1 523.9,1077.8 524.7,1077.6 525.4,1077.4 526.2,1077.3 527,1077.3 590.3,1077.3 591.1,1077.3 591.9,1077.4 592.6,1077.6 593.4,1077.8 594.1,1078.1 594.8,1078.5 595.5,1078.9 596.1,1079.4 596.7,1079.9 597.2,1080.5 597.7,1081.1 598.1,1081.8 598.5,1082.5 598.8,1083.2 599,1084 599.2,1084.7 599.3,1085.5 599.3,1086.3 599.3,1087.1 599.2,1087.9 599,1088.6 598.8,1089.4 598.5,1090.1 598.1,1090.8 597.7,1091.5 597.2,1092.1 596.7,1092.7 596.1,1093.2 595.5,1093.7 594.8,1094.1 594.1,1094.5 593.4,1094.8 592.6,1095 591.9,1095.2 591.1,1095.3 590.3,1095.3Z M469.2,542.9 472.1,542.6 475,542.5 477.8,542.8 480.7,543.3 483.4,544.2 486.1,545.3 488.6,546.7 490.9,548.3 493.1,550.2 495.1,552.3 496.8,554.6 498.3,557.1 499.5,559.7 500.4,562.4 501.1,565.2 501.4,568.1 501.5,571 501.2,573.8 500.7,576.7 499.8,579.4 498.7,582.1 497.3,584.6 495.7,586.9 493.8,589.1 491.7,591.1 489.4,592.8 486.9,594.3 484.3,595.5 481.6,596.4 478.8,597.1 475.9,597.4 473,597.5 470.2,597.2 467.3,596.7 464.6,595.8 454.7,595.5 443.6,595.3 431.6,595.2 419,595.2 406,595.3 392.9,595.6 380,596.2 367.5,597 364.5,596.8 361.6,596.4 358.7,595.6 355.9,594.5 353.2,593.2 350.7,591.6 348.4,589.7 346.3,587.6 344.4,585.3 342.8,582.8 341.5,580.1 340.4,577.3 339.6,574.4 339.2,571.5 339,568.5 339.2,565.5 339.6,562.6 340.4,559.7 341.5,556.9 342.8,554.2 344.4,551.7 346.3,549.4 348.4,547.3 350.7,545.4 353.2,543.8 355.9,542.5 358.7,541.4 361.6,540.6 364.5,540.2 367.5,540 380,539.5 393,539.2 406.3,539.1 419.6,539.2 432.8,539.7 445.6,540.4 457.8,541.5Z M362.8,1111.1 359.9,1111.4 357,1111.5 354.2,1111.2 351.3,1110.7 348.6,1109.8 345.9,1108.7 343.4,1107.3 341.1,1105.7 338.9,1103.8 336.9,1101.7 335.2,1099.4 333.7,1096.9 332.5,1094.3 331.6,1091.6 330.9,1088.8 330.6,1085.9 330.5,1083 330.8,1080.2 331.3,1077.3 332.2,1074.6 333.3,1071.9 334.7,1069.4 336.3,1067.1 338.2,1064.9 340.3,1062.9 342.6,1061.2 345.1,1059.7 347.7,1058.5 350.4,1057.6 353.2,1056.9 356.1,1056.6 359,1056.5 361.8,1056.8 364.7,1057.3 367.4,1058.2 377.3,1058.5 388.4,1058.7 400.4,1058.8 413,1058.8 426,1058.7 439.1,1058.4 452,1057.8 464.5,1057 467.5,1057.2 470.4,1057.6 473.3,1058.4 476.1,1059.5 478.8,1060.8 481.3,1062.4 483.6,1064.3 485.7,1066.4 487.6,1068.7 489.2,1071.2 490.5,1073.9 491.6,1076.7 492.4,1079.6 492.8,1082.5 493,1085.5 492.8,1088.5 492.4,1091.4 491.6,1094.3 490.5,1097.1 489.2,1099.8 487.6,1102.3 485.7,1104.6 483.6,1106.7 481.3,1108.6 478.8,1110.2 476.1,1111.5 473.3,1112.6 470.4,1113.4 467.5,1113.8 464.5,1114 452,1114.5 439,1114.8 425.7,1114.9 412.4,1114.8 399.2,1114.3 386.4,1113.6 374.2,1112.5Z M615.5,545.2 659.3,545.2 659.3,589.5 615.5,589.5Z M204.3,1094.6 204.4,1094.6 204.6,1094.6 204.7,1094.7 204.9,1094.7 205,1094.8 205.2,1094.8 205.3,1094.9 205.4,1095 205.5,1095.1 205.6,1095.2 205.7,1095.3 205.8,1095.5 205.8,1095.6 205.9,1095.7 205.9,1095.9 206,1096 206,1096.2 206,1096.3 206,1096.4 206,1096.6 205.9,1096.7 205.9,1096.9 205.8,1097 205.8,1097.1 205.7,1097.3 205.6,1097.4 205.5,1097.5 205.4,1097.6 205.3,1097.7 205.2,1097.8 205,1097.8 204.9,1097.9 204.7,1097.9 204.6,1098 204.4,1098 204.3,1098 189.2,1098 189.1,1098 188.9,1098 188.8,1097.9 188.6,1097.9 188.5,1097.8 188.3,1097.8 188.2,1097.7 188.1,1097.6 188,1097.5 187.9,1097.4 187.8,1097.3 187.7,1097.1 187.7,1097 187.6,1096.9 187.6,1096.7 187.5,1096.6 187.5,1096.4 187.5,1096.3 187.5,1096.2 187.5,1096 187.6,1095.9 187.6,1095.7 187.7,1095.6 187.7,1095.5 187.8,1095.3 187.9,1095.2 188,1095.1 188.1,1095 188.2,1094.9 188.3,1094.8 188.5,1094.8 188.6,1094.7 188.8,1094.7 188.9,1094.6 189.1,1094.6 189.2,1094.6Z"/>
<path stroke-width="2.0" d="M203.2,1090 m-2.6,0 a2.6,2.6 0 1,0 5.2,0 a2.6,2.6 0 1,0 -5.2,0Z"/>
<path stroke-width="2.5" d="M188,1064.3 L190.6,1090.6 L200.5,1090.6 M206.5,1064.3 L204.3,1086.5"/>
<path stroke-width="2.6" d="M345.7,757.1 486.4,757.1 486.4,897.1 345.7,897.1Z"/>
<path stroke-width="2.8" d="M175.3,1054.3 L218.4,1097.2 M218.2,1054 L174.9,1097.2"/>
<path stroke-width="2.9" d="M389.7,658.2 442.5,658.2 442.5,682.5 389.7,682.5Z"/>
<path stroke-width="3.2" d="M443.1,654.1 443.5,654.1 443.8,654.2 444.2,654.2 444.5,654.4 444.9,654.5 445.2,654.7 445.5,654.9 445.8,655.1 446.1,655.3 446.3,655.6 446.5,655.9 446.7,656.2 446.9,656.5 447,656.9 447.2,657.2 447.2,657.6 447.3,657.9 447.3,658.3 447.3,683.1 447.3,683.5 447.2,683.8 447.2,684.2 447,684.5 446.9,684.9 446.7,685.2 446.5,685.5 446.3,685.8 446.1,686.1 445.8,686.3 445.5,686.5 445.2,686.7 444.9,686.9 444.5,687 444.2,687.2 443.8,687.2 443.5,687.3 443.1,687.3 389.7,687.3 389.3,687.3 389,687.2 388.6,687.2 388.3,687 387.9,686.9 387.6,686.7 387.3,686.5 387,686.3 386.7,686.1 386.5,685.8 386.3,685.5 386.1,685.2 385.9,684.9 385.8,684.5 385.6,684.2 385.6,683.8 385.5,683.5 385.5,683.1 385.5,658.3 385.5,657.9 385.6,657.6 385.6,657.2 385.8,656.9 385.9,656.5 386.1,656.2 386.3,655.9 386.5,655.6 386.7,655.3 387,655.1 387.3,654.9 387.6,654.7 387.9,654.5 388.3,654.4 388.6,654.2 389,654.2 389.3,654.1 389.7,654.1Z"/>
<path stroke-width="4.0" d="M144.6,1061.4 L153.2,1052.8"/>
<path stroke-width="5.8" d="M152.3,1053.7 L155.6,1050.4"/>
</g>
<path fill="#121212" d="M428,692.9 428.2,692.9 428.5,692.9 428.7,693 428.9,693.1 429.1,693.2 429.4,693.3 429.5,693.4 429.7,693.5 429.9,693.7 430.1,693.9 430.2,694.1 430.3,694.2 430.4,694.5 430.5,694.7 430.6,694.9 430.7,695.1 430.7,695.4 430.7,695.6 430.7,695.7 430.7,695.9 430.7,696.2 430.6,696.4 430.5,696.6 430.4,696.8 430.3,697 430.2,697.2 430.1,697.4 429.9,697.6 429.7,697.8 429.5,697.9 429.4,698 429.1,698.1 428.9,698.2 428.7,698.3 428.5,698.4 428.2,698.4 428,698.4 404.5,698.4 404.3,698.4 404,698.4 403.8,698.3 403.6,698.2 403.4,698.1 403.1,698 403,697.9 402.8,697.8 402.6,697.6 402.4,697.4 402.3,697.2 402.2,697 402.1,696.8 402,696.6 401.9,696.4 401.8,696.2 401.8,695.9 401.8,695.7 401.8,695.6 401.8,695.4 401.8,695.1 401.9,694.9 402,694.7 402.1,694.5 402.2,694.2 402.3,694.1 402.4,693.9 402.6,693.7 402.8,693.5 403,693.4 403.1,693.3 403.4,693.2 403.6,693.1 403.8,693 404,692.9 404.3,692.9 404.5,692.9Z M185.9,1063.8 L188.2,1058.6 Q197.3,1055.6 206.4,1058.6 L208.8,1063.8 Z"/>
<rect x="90" y="495" width="660" height="660" fill="#121212" mask="url(#dbl)"/>
<g font-family="Liberation Sans" font-weight="bold" fill="none" stroke="#121212" stroke-width="1.5" stroke-linejoin="round">
<text x="376" y="725.7" font-size="32.5" textLength="80" lengthAdjust="spacingAndGlyphs">HDMI</text>
<text x="567.7" y="1048.4" font-size="24.6" textLength="128.4" lengthAdjust="spacingAndGlyphs">AMBRELLA</text>
<text x="629.7" y="1071.7" font-size="24.6" textLength="66.8" lengthAdjust="spacingAndGlyphs">VOLT</text>
</g>

<!-- right diagram -->
<g fill="none" stroke="#484a52" stroke-width="1.7" stroke-linejoin="round">
<rect x="1005.1" y="533.6" width="242.7" height="132.8" rx="15"/>
<rect x="1021.7" y="550.2" width="209.3" height="99.8"/>
<path d="M1090.5,688.7 V672.6 H1162.5 V688.7 H1171 A7.25,7.25 0 0 1 1171,703.2 H1081.2 A7.25,7.25 0 0 1 1081.2,688.7 Z"/>
<path d="M1126.4,703.2 V900.6"/>
<rect x="1039.2" y="900.6" width="174.2" height="173.7"/>
<rect x="1045.6" y="907" width="162.1" height="161.4"/>
<path d="M1059.4,964.4 H1194.2 Q1199.2,964.4 1199.2,969.4 V995.8 L1178.6,1012.5 H1074.8 L1054.4,995.8 V969.4 Q1054.4,964.4 1059.4,964.4 Z"/>
<path d="M1072,983 H1181.7 L1174.5,993.8 H1079.5 Z"/>
<path d="M1213.4,986.6 H1410.6"/>
<rect x="1410.6" y="900.6" width="258" height="173"/>
<rect x="1417.6" y="907.1" width="244.2" height="159.8"/>
<path d="M1459.6,1093.5 L1478.6,1073.6 L1489.4,1084.4"/>
<path d="M1583.1,1093.5 L1602.2,1073.6 L1613.4,1084.4"/>
</g>
</svg>
</body></html>
